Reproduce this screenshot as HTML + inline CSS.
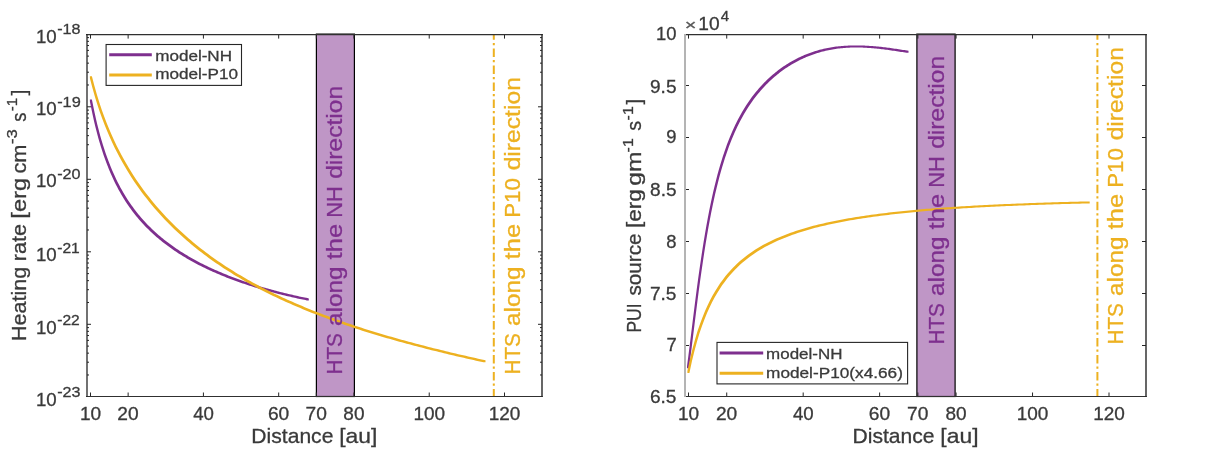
<!DOCTYPE html>
<html><head><meta charset="utf-8"><title>Heating rate and PUI source</title>
<style>
html,body{margin:0;padding:0;background:#fff;width:1205px;height:450px;overflow:hidden}
svg{display:block}
svg{will-change:transform}
text{font-family:"Liberation Sans",sans-serif;font-kerning:none;white-space:pre}
</style></head><body>
<svg width="1205" height="450" viewBox="0 0 1205 450"><rect width="1205" height="450" fill="#fff"/><rect x="316.40" y="34.10" width="38.00" height="362.40" fill="#BF96C6" stroke="#000" stroke-width="1.2"/><path d="M90.50,396.50v-4M90.50,34.60v4M128.14,396.50v-4M128.14,34.60v4M203.41,396.50v-4M203.41,34.60v4M278.68,396.50v-4M278.68,34.60v4M316.32,396.50v-4M316.32,34.60v4M353.95,396.50v-4M353.95,34.60v4M429.22,396.50v-4M429.22,34.60v4M504.50,396.50v-4M504.50,34.60v4M87.00,106.80h4M542.00,106.80h-4M87.00,179.30h4M542.00,179.30h-4M87.00,251.80h4M542.00,251.80h-4M87.00,324.30h4M542.00,324.30h-4M87.00,84.98h2M542.00,84.98h-2M87.00,72.21h2M542.00,72.21h-2M87.00,63.15h2M542.00,63.15h-2M87.00,56.12h2M542.00,56.12h-2M87.00,50.38h2M542.00,50.38h-2M87.00,45.53h2M542.00,45.53h-2M87.00,41.33h2M542.00,41.33h-2M87.00,37.62h2M542.00,37.62h-2M87.00,157.48h2M542.00,157.48h-2M87.00,144.71h2M542.00,144.71h-2M87.00,135.65h2M542.00,135.65h-2M87.00,128.62h2M542.00,128.62h-2M87.00,122.88h2M542.00,122.88h-2M87.00,118.03h2M542.00,118.03h-2M87.00,113.83h2M542.00,113.83h-2M87.00,110.12h2M542.00,110.12h-2M87.00,229.98h2M542.00,229.98h-2M87.00,217.21h2M542.00,217.21h-2M87.00,208.15h2M542.00,208.15h-2M87.00,201.12h2M542.00,201.12h-2M87.00,195.38h2M542.00,195.38h-2M87.00,190.53h2M542.00,190.53h-2M87.00,186.33h2M542.00,186.33h-2M87.00,182.62h2M542.00,182.62h-2M87.00,302.48h2M542.00,302.48h-2M87.00,289.71h2M542.00,289.71h-2M87.00,280.65h2M542.00,280.65h-2M87.00,273.62h2M542.00,273.62h-2M87.00,267.88h2M542.00,267.88h-2M87.00,263.03h2M542.00,263.03h-2M87.00,258.83h2M542.00,258.83h-2M87.00,255.12h2M542.00,255.12h-2M87.00,374.98h2M542.00,374.98h-2M87.00,362.21h2M542.00,362.21h-2M87.00,353.15h2M542.00,353.15h-2M87.00,346.12h2M542.00,346.12h-2M87.00,340.38h2M542.00,340.38h-2M87.00,335.53h2M542.00,335.53h-2M87.00,331.33h2M542.00,331.33h-2M87.00,327.62h2M542.00,327.62h-2" stroke="#262626" stroke-width="1" fill="none"/><rect x="916.90" y="34.10" width="38.20" height="362.40" fill="#BF96C6" stroke="#000" stroke-width="1.2"/><path d="M688.50,396.50v-4M688.50,34.60v4M726.73,396.50v-4M726.73,34.60v4M803.18,396.50v-4M803.18,34.60v4M879.63,396.50v-4M879.63,34.60v4M917.86,396.50v-4M917.86,34.60v4M956.09,396.50v-4M956.09,34.60v4M1032.54,396.50v-4M1032.54,34.60v4M1109.00,396.50v-4M1109.00,34.60v4M685.00,85.50h4M1146.00,85.50h-4M685.00,137.50h4M1146.00,137.50h-4M685.00,189.50h4M1146.00,189.50h-4M685.00,241.50h4M1146.00,241.50h-4M685.00,293.50h4M1146.00,293.50h-4M685.00,345.50h4M1146.00,345.50h-4" stroke="#262626" stroke-width="1" fill="none"/><path d="M89.90,99.41L91.90,99.41L93.26,106.36L93.26,108.36L91.26,108.36L89.90,101.41ZM91.26,106.36L93.26,106.36L94.63,112.87L94.63,114.87L92.63,114.87L91.26,108.36ZM92.63,112.87L94.63,112.87L95.99,118.96L95.99,120.96L93.99,120.96L92.63,114.87ZM93.99,118.96L95.99,118.96L97.36,124.68L97.36,126.68L95.36,126.68L93.99,120.96ZM95.36,124.68L97.36,124.68L98.72,130.07L98.72,132.07L96.72,132.07L95.36,126.68ZM96.72,130.07L98.72,130.07L100.08,135.15L100.08,137.15L98.08,137.15L96.72,132.07ZM98.08,135.15L100.08,135.15L101.45,139.96L101.45,141.96L99.45,141.96L98.08,137.15ZM99.45,139.96L101.45,139.96L102.81,144.50L102.81,146.50L100.81,146.50L99.45,141.96ZM100.81,144.50L102.81,144.50L104.18,148.82L104.18,150.82L102.18,150.82L100.81,146.50ZM102.18,148.82L104.18,148.82L105.54,152.92L105.54,154.92L103.54,154.92L102.18,150.82ZM103.54,152.92L105.54,152.92L106.91,156.82L106.91,158.82L104.91,158.82L103.54,154.92ZM104.91,156.82L106.91,156.82L108.27,160.54L108.27,162.54L106.27,162.54L104.91,158.82ZM106.27,160.54L108.27,160.54L109.63,164.09L109.63,166.09L107.63,166.09L106.27,162.54ZM107.63,164.09L109.63,164.09L111.00,167.48L111.00,169.48L109.00,169.48L107.63,166.09ZM109.00,167.48L111.00,167.48L112.36,170.72L112.36,172.72L110.36,172.72L109.00,169.48ZM110.36,170.72L112.36,170.72L113.73,173.83L113.73,175.83L111.73,175.83L110.36,172.72ZM111.73,173.83L113.73,173.83L115.09,176.82L115.09,178.82L113.09,178.82L111.73,175.83ZM113.09,176.82L115.09,176.82L116.45,179.68L116.45,181.68L114.45,181.68L113.09,178.82ZM114.45,179.68L116.45,179.68L117.82,182.44L117.82,184.44L115.82,184.44L114.45,181.68ZM115.82,182.44L117.82,182.44L119.18,185.09L119.18,187.09L117.18,187.09L115.82,184.44ZM117.18,185.09L119.18,185.09L120.55,187.64L120.55,189.64L118.55,189.64L117.18,187.09ZM118.55,187.64L120.55,187.64L121.91,190.11L121.91,192.11L119.91,192.11L118.55,189.64ZM119.91,190.11L121.91,190.11L123.28,192.48L123.28,194.48L121.28,194.48L119.91,192.11ZM121.28,192.48L123.28,192.48L124.64,194.78L124.64,196.78L122.64,196.78L121.28,194.48ZM122.64,194.78L124.64,194.78L126.00,197.00L126.00,199.00L124.00,199.00L122.64,196.78ZM124.00,197.00L126.00,197.00L127.37,199.15L127.37,201.15L125.37,201.15L124.00,199.00ZM125.37,199.15L127.37,199.15L128.73,201.23L128.73,203.23L126.73,203.23L125.37,201.15ZM126.73,201.23L128.73,201.23L130.10,203.25L130.10,205.25L128.10,205.25L126.73,203.23ZM128.10,203.25L130.10,203.25L131.46,205.20L131.46,207.20L129.46,207.20L128.10,205.25ZM129.46,205.20L131.46,205.20L132.82,207.10L132.82,209.10L130.82,209.10L129.46,207.20ZM130.82,207.10L132.82,207.10L134.19,208.94L134.19,210.94L132.19,210.94L130.82,209.10ZM132.19,208.94L134.19,208.94L135.55,210.74L135.55,212.74L133.55,212.74L132.19,210.94ZM133.55,210.74L135.55,210.74L136.92,212.48L136.92,214.48L134.92,214.48L133.55,212.74ZM134.92,212.48L136.92,212.48L138.28,214.17L138.28,216.17L136.28,216.17L134.92,214.48ZM136.28,214.17L138.28,214.17L139.65,215.82L139.65,217.82L137.65,217.82L136.28,216.17ZM137.65,215.82L139.65,215.82L141.01,217.43L141.01,219.43L139.01,219.43L137.65,217.82ZM139.01,217.43L141.01,217.43L142.37,218.99L142.37,220.99L140.37,220.99L139.01,219.43ZM140.37,218.99L142.37,218.99L143.74,220.52L143.74,222.52L141.74,222.52L140.37,220.99ZM141.74,220.52L143.74,220.52L145.10,222.01L145.10,224.01L143.10,224.01L141.74,222.52ZM143.10,222.01L145.10,222.01L146.47,223.46L146.47,225.46L144.47,225.46L143.10,224.01ZM144.47,223.46L146.47,223.46L147.83,224.88L147.83,226.88L145.83,226.88L144.47,225.46ZM145.83,224.88L147.83,224.88L149.19,226.26L149.19,228.26L147.19,228.26L145.83,226.88ZM147.19,226.26L149.19,226.26L150.56,227.62L150.56,229.62L148.56,229.62L147.19,228.26ZM148.56,227.62L150.56,227.62L151.92,228.94L151.92,230.94L149.92,230.94L148.56,229.62ZM149.92,228.94L151.92,228.94L153.29,230.23L153.29,232.23L151.29,232.23L149.92,230.94ZM151.29,230.23L153.29,230.23L154.65,231.50L154.65,233.50L152.65,233.50L151.29,232.23ZM152.65,231.50L154.65,231.50L156.02,232.74L156.02,234.74L154.02,234.74L152.65,233.50ZM154.02,232.74L156.02,232.74L157.38,233.95L157.38,235.95L155.38,235.95L154.02,234.74ZM155.38,233.95L157.38,233.95L158.74,235.14L158.74,237.14L156.74,237.14L155.38,235.95ZM156.74,235.14L158.74,235.14L160.11,236.31L160.11,238.31L158.11,238.31L156.74,237.14ZM158.11,236.31L160.11,236.31L161.47,237.45L161.47,239.45L159.47,239.45L158.11,238.31ZM159.47,237.45L161.47,237.45L162.84,238.57L162.84,240.57L160.84,240.57L159.47,239.45ZM160.84,238.57L162.84,238.57L164.20,239.67L164.20,241.67L162.20,241.67L160.84,240.57ZM162.20,239.67L164.20,239.67L165.56,240.74L165.56,242.74L163.56,242.74L162.20,241.67ZM163.56,240.74L165.56,240.74L166.93,241.80L166.93,243.80L164.93,243.80L163.56,242.74ZM164.93,241.80L166.93,241.80L168.29,242.83L168.29,244.83L166.29,244.83L164.93,243.80ZM166.29,242.83L168.29,242.83L169.66,243.85L169.66,245.85L167.66,245.85L166.29,244.83ZM167.66,243.85L169.66,243.85L171.02,244.85L171.02,246.85L169.02,246.85L167.66,245.85ZM169.02,244.85L171.02,244.85L172.38,245.83L172.38,247.83L170.38,247.83L169.02,246.85ZM170.38,245.83L172.38,245.83L173.75,246.80L173.75,248.80L171.75,248.80L170.38,247.83ZM171.75,246.80L173.75,246.80L175.11,247.74L175.11,249.74L173.11,249.74L171.75,248.80ZM173.11,247.74L175.11,247.74L176.48,248.68L176.48,250.68L174.48,250.68L173.11,249.74ZM174.48,248.68L176.48,248.68L177.84,249.59L177.84,251.59L175.84,251.59L174.48,250.68ZM175.84,249.59L177.84,249.59L179.21,250.49L179.21,252.49L177.21,252.49L175.84,251.59ZM177.21,250.49L179.21,250.49L180.57,251.38L180.57,253.38L178.57,253.38L177.21,252.49ZM178.57,251.38L180.57,251.38L181.93,252.25L181.93,254.25L179.93,254.25L178.57,253.38ZM179.93,252.25L181.93,252.25L183.30,253.11L183.30,255.11L181.30,255.11L179.93,254.25ZM181.30,253.11L183.30,253.11L184.66,253.95L184.66,255.95L182.66,255.95L181.30,255.11ZM182.66,253.95L184.66,253.95L186.03,254.78L186.03,256.78L184.03,256.78L182.66,255.95ZM184.03,254.78L186.03,254.78L187.39,255.60L187.39,257.60L185.39,257.60L184.03,256.78ZM185.39,255.60L187.39,255.60L188.75,256.40L188.75,258.40L186.75,258.40L185.39,257.60ZM186.75,256.40L188.75,256.40L190.12,257.19L190.12,259.19L188.12,259.19L186.75,258.40ZM188.12,257.19L190.12,257.19L191.48,257.97L191.48,259.97L189.48,259.97L188.12,259.19ZM189.48,257.97L191.48,257.97L192.85,258.74L192.85,260.74L190.85,260.74L189.48,259.97ZM190.85,258.74L192.85,258.74L194.21,259.50L194.21,261.50L192.21,261.50L190.85,260.74ZM192.21,259.50L194.21,259.50L195.58,260.25L195.58,262.25L193.58,262.25L192.21,261.50ZM193.58,260.25L195.58,260.25L196.94,260.98L196.94,262.98L194.94,262.98L193.58,262.25ZM194.94,260.98L196.94,260.98L198.30,261.71L198.30,263.71L196.30,263.71L194.94,262.98ZM196.30,261.71L198.30,261.71L199.67,262.42L199.67,264.42L197.67,264.42L196.30,263.71ZM197.67,262.42L199.67,262.42L201.03,263.13L201.03,265.13L199.03,265.13L197.67,264.42ZM199.03,263.13L201.03,263.13L202.40,263.82L202.40,265.82L200.40,265.82L199.03,265.13ZM200.40,263.82L202.40,263.82L203.76,264.51L203.76,266.51L201.76,266.51L200.40,265.82ZM201.76,264.51L203.76,264.51L205.12,265.18L205.12,267.18L203.12,267.18L201.76,266.51ZM203.12,265.18L205.12,265.18L206.49,265.85L206.49,267.85L204.49,267.85L203.12,267.18ZM204.49,265.85L206.49,265.85L207.85,266.50L207.85,268.50L205.85,268.50L204.49,267.85ZM205.85,266.50L207.85,266.50L209.22,267.15L209.22,269.15L207.22,269.15L205.85,268.50ZM207.22,267.15L209.22,267.15L210.58,267.79L210.58,269.79L208.58,269.79L207.22,269.15ZM208.58,267.79L210.58,267.79L211.95,268.42L211.95,270.42L209.95,270.42L208.58,269.79ZM209.95,268.42L211.95,268.42L213.31,269.05L213.31,271.05L211.31,271.05L209.95,270.42ZM211.31,269.05L213.31,269.05L214.67,269.66L214.67,271.66L212.67,271.66L211.31,271.05ZM212.67,269.66L214.67,269.66L216.04,270.27L216.04,272.27L214.04,272.27L212.67,271.66ZM214.04,270.27L216.04,270.27L217.40,270.87L217.40,272.87L215.40,272.87L214.04,272.27ZM215.40,270.87L217.40,270.87L218.77,271.46L218.77,273.46L216.77,273.46L215.40,272.87ZM216.77,271.46L218.77,271.46L220.13,272.04L220.13,274.04L218.13,274.04L216.77,273.46ZM218.13,272.04L220.13,272.04L221.49,272.62L221.49,274.62L219.49,274.62L218.13,274.04ZM219.49,272.62L221.49,272.62L222.86,273.19L222.86,275.19L220.86,275.19L219.49,274.62ZM220.86,273.19L222.86,273.19L224.22,273.75L224.22,275.75L222.22,275.75L220.86,275.19ZM222.22,273.75L224.22,273.75L225.59,274.30L225.59,276.30L223.59,276.30L222.22,275.75ZM223.59,274.30L225.59,274.30L226.95,274.85L226.95,276.85L224.95,276.85L223.59,276.30ZM224.95,274.85L226.95,274.85L228.32,275.39L228.32,277.39L226.32,277.39L224.95,276.85ZM226.32,275.39L228.32,275.39L229.68,275.93L229.68,277.93L227.68,277.93L226.32,277.39ZM227.68,275.93L229.68,275.93L231.04,276.46L231.04,278.46L229.04,278.46L227.68,277.93ZM229.04,276.46L231.04,276.46L232.41,276.98L232.41,278.98L230.41,278.98L229.04,278.46ZM230.41,276.98L232.41,276.98L233.77,277.49L233.77,279.49L231.77,279.49L230.41,278.98ZM231.77,277.49L233.77,277.49L235.14,278.00L235.14,280.00L233.14,280.00L231.77,279.49ZM233.14,278.00L235.14,278.00L236.50,278.51L236.50,280.51L234.50,280.51L233.14,280.00ZM234.50,278.51L236.50,278.51L237.86,279.00L237.86,281.00L235.86,281.00L234.50,280.51ZM235.86,279.00L237.86,279.00L239.23,279.50L239.23,281.50L237.23,281.50L235.86,281.00ZM237.23,279.50L239.23,279.50L240.59,279.98L240.59,281.98L238.59,281.98L237.23,281.50ZM238.59,279.98L240.59,279.98L241.96,280.46L241.96,282.46L239.96,282.46L238.59,281.98ZM239.96,280.46L241.96,280.46L243.32,280.94L243.32,282.94L241.32,282.94L239.96,282.46ZM241.32,280.94L243.32,280.94L244.68,281.40L244.68,283.40L242.68,283.40L241.32,282.94ZM242.68,281.40L244.68,281.40L246.05,281.87L246.05,283.87L244.05,283.87L242.68,283.40ZM244.05,281.87L246.05,281.87L247.41,282.33L247.41,284.33L245.41,284.33L244.05,283.87ZM245.41,282.33L247.41,282.33L248.78,282.78L248.78,284.78L246.78,284.78L245.41,284.33ZM246.78,282.78L248.78,282.78L250.14,283.23L250.14,285.23L248.14,285.23L246.78,284.78ZM248.14,283.23L250.14,283.23L251.51,283.67L251.51,285.67L249.51,285.67L248.14,285.23ZM249.51,283.67L251.51,283.67L252.87,284.11L252.87,286.11L250.87,286.11L249.51,285.67ZM250.87,284.11L252.87,284.11L254.23,284.54L254.23,286.54L252.23,286.54L250.87,286.11ZM252.23,284.54L254.23,284.54L255.60,284.96L255.60,286.96L253.60,286.96L252.23,286.54ZM253.60,284.96L255.60,284.96L256.96,285.39L256.96,287.39L254.96,287.39L253.60,286.96ZM254.96,285.39L256.96,285.39L258.33,285.80L258.33,287.80L256.33,287.80L254.96,287.39ZM256.33,285.80L258.33,285.80L259.69,286.22L259.69,288.22L257.69,288.22L256.33,287.80ZM257.69,286.22L259.69,286.22L261.05,286.63L261.05,288.63L259.05,288.63L257.69,288.22ZM259.05,286.63L261.05,286.63L262.42,287.03L262.42,289.03L260.42,289.03L259.05,288.63ZM260.42,287.03L262.42,287.03L263.78,287.43L263.78,289.43L261.78,289.43L260.42,289.03ZM261.78,287.43L263.78,287.43L265.15,287.82L265.15,289.82L263.15,289.82L261.78,289.43ZM263.15,287.82L265.15,287.82L266.51,288.21L266.51,290.21L264.51,290.21L263.15,289.82ZM264.51,288.21L266.51,288.21L267.88,288.60L267.88,290.60L265.88,290.60L264.51,290.21ZM265.88,288.60L267.88,288.60L269.24,288.98L269.24,290.98L267.24,290.98L265.88,290.60ZM267.24,288.98L269.24,288.98L270.60,289.36L270.60,291.36L268.60,291.36L267.24,290.98ZM268.60,289.36L270.60,289.36L271.97,289.73L271.97,291.73L269.97,291.73L268.60,291.36ZM269.97,289.73L271.97,289.73L273.33,290.10L273.33,292.10L271.33,292.10L269.97,291.73ZM271.33,290.10L273.33,290.10L274.70,290.47L274.70,292.47L272.70,292.47L271.33,292.10ZM272.70,290.47L274.70,290.47L276.06,290.83L276.06,292.83L274.06,292.83L272.70,292.47ZM274.06,290.83L276.06,290.83L277.42,291.19L277.42,293.19L275.42,293.19L274.06,292.83ZM275.42,291.19L277.42,291.19L278.79,291.54L278.79,293.54L276.79,293.54L275.42,293.19ZM276.79,291.54L278.79,291.54L280.15,291.89L280.15,293.89L278.15,293.89L276.79,293.54ZM278.15,291.89L280.15,291.89L281.52,292.23L281.52,294.23L279.52,294.23L278.15,293.89ZM279.52,292.23L281.52,292.23L282.88,292.57L282.88,294.57L280.88,294.57L279.52,294.23ZM280.88,292.57L282.88,292.57L284.25,292.91L284.25,294.91L282.25,294.91L280.88,294.57ZM282.25,292.91L284.25,292.91L285.61,293.25L285.61,295.25L283.61,295.25L282.25,294.91ZM283.61,293.25L285.61,293.25L286.97,293.58L286.97,295.58L284.97,295.58L283.61,295.25ZM284.97,293.58L286.97,293.58L288.34,293.90L288.34,295.90L286.34,295.90L284.97,295.58ZM286.34,293.90L288.34,293.90L289.70,294.23L289.70,296.23L287.70,296.23L286.34,295.90ZM287.70,294.23L289.70,294.23L291.07,294.55L291.07,296.55L289.07,296.55L287.70,296.23ZM289.07,294.55L291.07,294.55L292.43,294.86L292.43,296.86L290.43,296.86L289.07,296.55ZM290.43,294.86L292.43,294.86L293.79,295.18L293.79,297.18L291.79,297.18L290.43,296.86ZM291.79,295.18L293.79,295.18L295.16,295.49L295.16,297.49L293.16,297.49L291.79,297.18ZM293.16,295.49L295.16,295.49L296.52,295.79L296.52,297.79L294.52,297.79L293.16,297.49ZM294.52,295.79L296.52,295.79L297.89,296.09L297.89,298.09L295.89,298.09L294.52,297.79ZM295.89,296.09L297.89,296.09L299.25,296.39L299.25,298.39L297.25,298.39L295.89,298.09ZM297.25,296.39L299.25,296.39L300.62,296.69L300.62,298.69L298.62,298.69L297.25,298.39ZM298.62,296.69L300.62,296.69L301.98,296.98L301.98,298.98L299.98,298.98L298.62,298.69ZM299.98,296.98L301.98,296.98L303.34,297.27L303.34,299.27L301.34,299.27L299.98,298.98ZM301.34,297.27L303.34,297.27L304.71,297.56L304.71,299.56L302.71,299.56L301.34,299.27ZM302.71,297.56L304.71,297.56L306.07,297.84L306.07,299.84L304.07,299.84L302.71,299.56ZM304.07,297.84L306.07,297.84L307.44,298.12L307.44,300.12L305.44,300.12L304.07,299.84ZM305.44,298.12L307.44,298.12L308.80,298.40L308.80,300.40L306.80,300.40L305.44,300.12Z" fill="#7E2F8E" fill-rule="nonzero"/><path d="M89.90,76.23L91.90,76.23L94.38,85.81L94.38,87.81L92.38,87.81L89.90,78.23ZM92.38,85.81L94.38,85.81L96.85,94.53L96.85,96.53L94.85,96.53L92.38,87.81ZM94.85,94.53L96.85,94.53L99.33,102.53L99.33,104.53L97.33,104.53L94.85,96.53ZM97.33,102.53L99.33,102.53L101.80,109.94L101.80,111.94L99.80,111.94L97.33,104.53ZM99.80,109.94L101.80,109.94L104.28,116.83L104.28,118.83L102.28,118.83L99.80,111.94ZM102.28,116.83L104.28,116.83L106.75,123.28L106.75,125.28L104.75,125.28L102.28,118.83ZM104.75,123.28L106.75,123.28L109.23,129.35L109.23,131.35L107.23,131.35L104.75,125.28ZM107.23,129.35L109.23,129.35L111.70,135.07L111.70,137.07L109.70,137.07L107.23,131.35ZM109.70,135.07L111.70,135.07L114.18,140.50L114.18,142.50L112.18,142.50L109.70,137.07ZM112.18,140.50L114.18,140.50L116.65,145.66L116.65,147.66L114.65,147.66L112.18,142.50ZM114.65,145.66L116.65,145.66L119.13,150.58L119.13,152.58L117.13,152.58L114.65,147.66ZM117.13,150.58L119.13,150.58L121.61,155.29L121.61,157.29L119.61,157.29L117.13,152.58ZM119.61,155.29L121.61,155.29L124.08,159.80L124.08,161.80L122.08,161.80L119.61,157.29ZM122.08,159.80L124.08,159.80L126.56,164.12L126.56,166.12L124.56,166.12L122.08,161.80ZM124.56,164.12L126.56,164.12L129.03,168.28L129.03,170.28L127.03,170.28L124.56,166.12ZM127.03,168.28L129.03,168.28L131.51,172.29L131.51,174.29L129.51,174.29L127.03,170.28ZM129.51,172.29L131.51,172.29L133.98,176.16L133.98,178.16L131.98,178.16L129.51,174.29ZM131.98,176.16L133.98,176.16L136.46,179.89L136.46,181.89L134.46,181.89L131.98,178.16ZM134.46,179.89L136.46,179.89L138.93,183.50L138.93,185.50L136.93,185.50L134.46,181.89ZM136.93,183.50L138.93,183.50L141.41,187.00L141.41,189.00L139.41,189.00L136.93,185.50ZM139.41,187.00L141.41,187.00L143.88,190.39L143.88,192.39L141.88,192.39L139.41,189.00ZM141.88,190.39L143.88,190.39L146.36,193.68L146.36,195.68L144.36,195.68L141.88,192.39ZM144.36,193.68L146.36,193.68L148.84,196.87L148.84,198.87L146.84,198.87L144.36,195.68ZM146.84,196.87L148.84,196.87L151.31,199.98L151.31,201.98L149.31,201.98L146.84,198.87ZM149.31,199.98L151.31,199.98L153.79,203.00L153.79,205.00L151.79,205.00L149.31,201.98ZM151.79,203.00L153.79,203.00L156.26,205.93L156.26,207.93L154.26,207.93L151.79,205.00ZM154.26,205.93L156.26,205.93L158.74,208.79L158.74,210.79L156.74,210.79L154.26,207.93ZM156.74,208.79L158.74,208.79L161.21,211.58L161.21,213.58L159.21,213.58L156.74,210.79ZM159.21,211.58L161.21,211.58L163.69,214.30L163.69,216.30L161.69,216.30L159.21,213.58ZM161.69,214.30L163.69,214.30L166.16,216.95L166.16,218.95L164.16,218.95L161.69,216.30ZM164.16,216.95L166.16,216.95L168.64,219.54L168.64,221.54L166.64,221.54L164.16,218.95ZM166.64,219.54L168.64,219.54L171.12,222.06L171.12,224.06L169.12,224.06L166.64,221.54ZM169.12,222.06L171.12,222.06L173.59,224.53L173.59,226.53L171.59,226.53L169.12,224.06ZM171.59,224.53L173.59,224.53L176.07,226.95L176.07,228.95L174.07,228.95L171.59,226.53ZM174.07,226.95L176.07,226.95L178.54,229.30L178.54,231.30L176.54,231.30L174.07,228.95ZM176.54,229.30L178.54,229.30L181.02,231.61L181.02,233.61L179.02,233.61L176.54,231.30ZM179.02,231.61L181.02,231.61L183.49,233.87L183.49,235.87L181.49,235.87L179.02,233.61ZM181.49,233.87L183.49,233.87L185.97,236.08L185.97,238.08L183.97,238.08L181.49,235.87ZM183.97,236.08L185.97,236.08L188.44,238.24L188.44,240.24L186.44,240.24L183.97,238.08ZM186.44,238.24L188.44,238.24L190.92,240.36L190.92,242.36L188.92,242.36L186.44,240.24ZM188.92,240.36L190.92,240.36L193.39,242.44L193.39,244.44L191.39,244.44L188.92,242.36ZM191.39,242.44L193.39,242.44L195.87,244.48L195.87,246.48L193.87,246.48L191.39,244.44ZM193.87,244.48L195.87,244.48L198.35,246.47L198.35,248.47L196.35,248.47L193.87,246.48ZM196.35,246.47L198.35,246.47L200.82,248.43L200.82,250.43L198.82,250.43L196.35,248.47ZM198.82,248.43L200.82,248.43L203.30,250.35L203.30,252.35L201.30,252.35L198.82,250.43ZM201.30,250.35L203.30,250.35L205.77,252.23L205.77,254.23L203.77,254.23L201.30,252.35ZM203.77,252.23L205.77,252.23L208.25,254.08L208.25,256.08L206.25,256.08L203.77,254.23ZM206.25,254.08L208.25,254.08L210.72,255.90L210.72,257.90L208.72,257.90L206.25,256.08ZM208.72,255.90L210.72,255.90L213.20,257.68L213.20,259.68L211.20,259.68L208.72,257.90ZM211.20,257.68L213.20,257.68L215.67,259.43L215.67,261.43L213.67,261.43L211.20,259.68ZM213.67,259.43L215.67,259.43L218.15,261.15L218.15,263.15L216.15,263.15L213.67,261.43ZM216.15,261.15L218.15,261.15L220.62,262.84L220.62,264.84L218.62,264.84L216.15,263.15ZM218.62,262.84L220.62,262.84L223.10,264.50L223.10,266.50L221.10,266.50L218.62,264.84ZM221.10,264.50L223.10,264.50L225.58,266.13L225.58,268.13L223.58,268.13L221.10,266.50ZM223.58,266.13L225.58,266.13L228.05,267.73L228.05,269.73L226.05,269.73L223.58,268.13ZM226.05,267.73L228.05,267.73L230.53,269.31L230.53,271.31L228.53,271.31L226.05,269.73ZM228.53,269.31L230.53,269.31L233.00,270.86L233.00,272.86L231.00,272.86L228.53,271.31ZM231.00,270.86L233.00,270.86L235.48,272.39L235.48,274.39L233.48,274.39L231.00,272.86ZM233.48,272.39L235.48,272.39L237.95,273.89L237.95,275.89L235.95,275.89L233.48,274.39ZM235.95,273.89L237.95,273.89L240.43,275.37L240.43,277.37L238.43,277.37L235.95,275.89ZM238.43,275.37L240.43,275.37L242.90,276.83L242.90,278.83L240.90,278.83L238.43,277.37ZM240.90,276.83L242.90,276.83L245.38,278.26L245.38,280.26L243.38,280.26L240.90,278.83ZM243.38,278.26L245.38,278.26L247.85,279.67L247.85,281.67L245.85,281.67L243.38,280.26ZM245.85,279.67L247.85,279.67L250.33,281.06L250.33,283.06L248.33,283.06L245.85,281.67ZM248.33,281.06L250.33,281.06L252.81,282.43L252.81,284.43L250.81,284.43L248.33,283.06ZM250.81,282.43L252.81,282.43L255.28,283.78L255.28,285.78L253.28,285.78L250.81,284.43ZM253.28,283.78L255.28,283.78L257.76,285.11L257.76,287.11L255.76,287.11L253.28,285.78ZM255.76,285.11L257.76,285.11L260.23,286.41L260.23,288.41L258.23,288.41L255.76,287.11ZM258.23,286.41L260.23,286.41L262.71,287.70L262.71,289.70L260.71,289.70L258.23,288.41ZM260.71,287.70L262.71,287.70L265.18,288.98L265.18,290.98L263.18,290.98L260.71,289.70ZM263.18,288.98L265.18,288.98L267.66,290.23L267.66,292.23L265.66,292.23L263.18,290.98ZM265.66,290.23L267.66,290.23L270.13,291.47L270.13,293.47L268.13,293.47L265.66,292.23ZM268.13,291.47L270.13,291.47L272.61,292.68L272.61,294.68L270.61,294.68L268.13,293.47ZM270.61,292.68L272.61,292.68L275.08,293.89L275.08,295.89L273.08,295.89L270.61,294.68ZM273.08,293.89L275.08,293.89L277.56,295.07L277.56,297.07L275.56,297.07L273.08,295.89ZM275.56,295.07L277.56,295.07L280.04,296.24L280.04,298.24L278.04,298.24L275.56,297.07ZM278.04,296.24L280.04,296.24L282.51,297.40L282.51,299.40L280.51,299.40L278.04,298.24ZM280.51,297.40L282.51,297.40L284.99,298.54L284.99,300.54L282.99,300.54L280.51,299.40ZM282.99,298.54L284.99,298.54L287.46,299.66L287.46,301.66L285.46,301.66L282.99,300.54ZM285.46,299.66L287.46,299.66L289.94,300.77L289.94,302.77L287.94,302.77L285.46,301.66ZM287.94,300.77L289.94,300.77L292.41,301.86L292.41,303.86L290.41,303.86L287.94,302.77ZM290.41,301.86L292.41,301.86L294.89,302.95L294.89,304.95L292.89,304.95L290.41,303.86ZM292.89,302.95L294.89,302.95L297.36,304.01L297.36,306.01L295.36,306.01L292.89,304.95ZM295.36,304.01L297.36,304.01L299.84,305.07L299.84,307.07L297.84,307.07L295.36,306.01ZM297.84,305.07L299.84,305.07L302.32,306.11L302.32,308.11L300.32,308.11L297.84,307.07ZM300.32,306.11L302.32,306.11L304.79,307.14L304.79,309.14L302.79,309.14L300.32,308.11ZM302.79,307.14L304.79,307.14L307.27,308.15L307.27,310.15L305.27,310.15L302.79,309.14ZM305.27,308.15L307.27,308.15L309.74,309.16L309.74,311.16L307.74,311.16L305.27,310.15ZM307.74,309.16L309.74,309.16L312.22,310.15L312.22,312.15L310.22,312.15L307.74,311.16ZM310.22,310.15L312.22,310.15L314.69,311.13L314.69,313.13L312.69,313.13L310.22,312.15ZM312.69,311.13L314.69,311.13L317.17,312.10L317.17,314.10L315.17,314.10L312.69,313.13ZM315.17,312.10L317.17,312.10L319.64,313.06L319.64,315.06L317.64,315.06L315.17,314.10ZM317.64,313.06L319.64,313.06L322.12,314.01L322.12,316.01L320.12,316.01L317.64,315.06ZM320.12,314.01L322.12,314.01L324.59,314.94L324.59,316.94L322.59,316.94L320.12,316.01ZM322.59,314.94L324.59,314.94L327.07,315.87L327.07,317.87L325.07,317.87L322.59,316.94ZM325.07,315.87L327.07,315.87L329.55,316.78L329.55,318.78L327.55,318.78L325.07,317.87ZM327.55,316.78L329.55,316.78L332.02,317.69L332.02,319.69L330.02,319.69L327.55,318.78ZM330.02,317.69L332.02,317.69L334.50,318.58L334.50,320.58L332.50,320.58L330.02,319.69ZM332.50,318.58L334.50,318.58L336.97,319.47L336.97,321.47L334.97,321.47L332.50,320.58ZM334.97,319.47L336.97,319.47L339.45,320.35L339.45,322.35L337.45,322.35L334.97,321.47ZM337.45,320.35L339.45,320.35L341.92,321.21L341.92,323.21L339.92,323.21L337.45,322.35ZM339.92,321.21L341.92,321.21L344.40,322.07L344.40,324.07L342.40,324.07L339.92,323.21ZM342.40,322.07L344.40,322.07L346.87,322.92L346.87,324.92L344.87,324.92L342.40,324.07ZM344.87,322.92L346.87,322.92L349.35,323.76L349.35,325.76L347.35,325.76L344.87,324.92ZM347.35,323.76L349.35,323.76L351.82,324.59L351.82,326.59L349.82,326.59L347.35,325.76ZM349.82,324.59L351.82,324.59L354.30,325.42L354.30,327.42L352.30,327.42L349.82,326.59ZM352.30,325.42L354.30,325.42L356.78,326.23L356.78,328.23L354.78,328.23L352.30,327.42ZM354.78,326.23L356.78,326.23L359.25,327.04L359.25,329.04L357.25,329.04L354.78,328.23ZM357.25,327.04L359.25,327.04L361.73,327.84L361.73,329.84L359.73,329.84L357.25,329.04ZM359.73,327.84L361.73,327.84L364.20,328.63L364.20,330.63L362.20,330.63L359.73,329.84ZM362.20,328.63L364.20,328.63L366.68,329.41L366.68,331.41L364.68,331.41L362.20,330.63ZM364.68,329.41L366.68,329.41L369.15,330.19L369.15,332.19L367.15,332.19L364.68,331.41ZM367.15,330.19L369.15,330.19L371.63,330.96L371.63,332.96L369.63,332.96L367.15,332.19ZM369.63,330.96L371.63,330.96L374.10,331.72L374.10,333.72L372.10,333.72L369.63,332.96ZM372.10,331.72L374.10,331.72L376.58,332.47L376.58,334.47L374.58,334.47L372.10,333.72ZM374.58,332.47L376.58,332.47L379.05,333.22L379.05,335.22L377.05,335.22L374.58,334.47ZM377.05,333.22L379.05,333.22L381.53,333.96L381.53,335.96L379.53,335.96L377.05,335.22ZM379.53,333.96L381.53,333.96L384.01,334.69L384.01,336.69L382.01,336.69L379.53,335.96ZM382.01,334.69L384.01,334.69L386.48,335.42L386.48,337.42L384.48,337.42L382.01,336.69ZM384.48,335.42L386.48,335.42L388.96,336.14L388.96,338.14L386.96,338.14L384.48,337.42ZM386.96,336.14L388.96,336.14L391.43,336.86L391.43,338.86L389.43,338.86L386.96,338.14ZM389.43,336.86L391.43,336.86L393.91,337.56L393.91,339.56L391.91,339.56L389.43,338.86ZM391.91,337.56L393.91,337.56L396.38,338.27L396.38,340.27L394.38,340.27L391.91,339.56ZM394.38,338.27L396.38,338.27L398.86,338.96L398.86,340.96L396.86,340.96L394.38,340.27ZM396.86,338.96L398.86,338.96L401.33,339.65L401.33,341.65L399.33,341.65L396.86,340.96ZM399.33,339.65L401.33,339.65L403.81,340.34L403.81,342.34L401.81,342.34L399.33,341.65ZM401.81,340.34L403.81,340.34L406.28,341.02L406.28,343.02L404.28,343.02L401.81,342.34ZM404.28,341.02L406.28,341.02L408.76,341.69L408.76,343.69L406.76,343.69L404.28,343.02ZM406.76,341.69L408.76,341.69L411.24,342.36L411.24,344.36L409.24,344.36L406.76,343.69ZM409.24,342.36L411.24,342.36L413.71,343.02L413.71,345.02L411.71,345.02L409.24,344.36ZM411.71,343.02L413.71,343.02L416.19,343.68L416.19,345.68L414.19,345.68L411.71,345.02ZM414.19,343.68L416.19,343.68L418.66,344.33L418.66,346.33L416.66,346.33L414.19,345.68ZM416.66,344.33L418.66,344.33L421.14,344.98L421.14,346.98L419.14,346.98L416.66,346.33ZM419.14,344.98L421.14,344.98L423.61,345.62L423.61,347.62L421.61,347.62L419.14,346.98ZM421.61,345.62L423.61,345.62L426.09,346.26L426.09,348.26L424.09,348.26L421.61,347.62ZM424.09,346.26L426.09,346.26L428.56,346.89L428.56,348.89L426.56,348.89L424.09,348.26ZM426.56,346.89L428.56,346.89L431.04,347.52L431.04,349.52L429.04,349.52L426.56,348.89ZM429.04,347.52L431.04,347.52L433.52,348.14L433.52,350.14L431.52,350.14L429.04,349.52ZM431.52,348.14L433.52,348.14L435.99,348.76L435.99,350.76L433.99,350.76L431.52,350.14ZM433.99,348.76L435.99,348.76L438.47,349.37L438.47,351.37L436.47,351.37L433.99,350.76ZM436.47,349.37L438.47,349.37L440.94,349.98L440.94,351.98L438.94,351.98L436.47,351.37ZM438.94,349.98L440.94,349.98L443.42,350.59L443.42,352.59L441.42,352.59L438.94,351.98ZM441.42,350.59L443.42,350.59L445.89,351.19L445.89,353.19L443.89,353.19L441.42,352.59ZM443.89,351.19L445.89,351.19L448.37,351.78L448.37,353.78L446.37,353.78L443.89,353.19ZM446.37,351.78L448.37,351.78L450.84,352.38L450.84,354.38L448.84,354.38L446.37,353.78ZM448.84,352.38L450.84,352.38L453.32,352.96L453.32,354.96L451.32,354.96L448.84,354.38ZM451.32,352.96L453.32,352.96L455.79,353.55L455.79,355.55L453.79,355.55L451.32,354.96ZM453.79,353.55L455.79,353.55L458.27,354.13L458.27,356.13L456.27,356.13L453.79,355.55ZM456.27,354.13L458.27,354.13L460.75,354.71L460.75,356.71L458.75,356.71L456.27,356.13ZM458.75,354.71L460.75,354.71L463.22,355.28L463.22,357.28L461.22,357.28L458.75,356.71ZM461.22,355.28L463.22,355.28L465.70,355.85L465.70,357.85L463.70,357.85L461.22,357.28ZM463.70,355.85L465.70,355.85L468.17,356.41L468.17,358.41L466.17,358.41L463.70,357.85ZM466.17,356.41L468.17,356.41L470.65,356.97L470.65,358.97L468.65,358.97L466.17,358.41ZM468.65,356.97L470.65,356.97L473.12,357.53L473.12,359.53L471.12,359.53L468.65,358.97ZM471.12,357.53L473.12,357.53L475.60,358.09L475.60,360.09L473.60,360.09L471.12,359.53ZM473.60,358.09L475.60,358.09L478.07,358.64L478.07,360.64L476.07,360.64L473.60,360.09ZM476.07,358.64L478.07,358.64L480.55,359.19L480.55,361.19L478.55,361.19L476.07,360.64ZM478.55,359.19L480.55,359.19L483.02,359.73L483.02,361.73L481.02,361.73L478.55,361.19ZM481.02,359.73L483.02,359.73L485.50,360.27L485.50,362.27L483.50,362.27L481.02,361.73Z" fill="#EDB120" fill-rule="nonzero"/><path d="M687.00,366.28L688.38,355.85L690.38,355.85L690.38,357.85L689.00,368.28L687.00,368.28ZM688.38,355.85L689.76,344.91L691.76,344.91L691.76,346.91L690.38,357.85L688.38,357.85ZM689.76,344.91L691.14,333.73L693.14,333.73L693.14,335.73L691.76,346.91L689.76,346.91ZM691.14,333.73L692.52,322.50L694.52,322.50L694.52,324.50L693.14,335.73L691.14,335.73ZM692.52,322.50L693.90,311.38L695.90,311.38L695.90,313.38L694.52,324.50L692.52,324.50ZM693.90,311.38L695.28,300.46L697.28,300.46L697.28,302.46L695.90,313.38L693.90,313.38ZM695.28,300.46L696.66,289.84L698.66,289.84L698.66,291.84L697.28,302.46L695.28,302.46ZM696.66,289.84L698.04,279.56L700.04,279.56L700.04,281.56L698.66,291.84L696.66,291.84ZM698.04,279.56L699.42,269.64L701.42,269.64L701.42,271.64L700.04,281.56L698.04,281.56ZM699.42,269.64L700.81,260.13L702.81,260.13L702.81,262.13L701.42,271.64L699.42,271.64ZM700.81,260.13L702.19,251.01L704.19,251.01L704.19,253.01L702.81,262.13L700.81,262.13ZM702.19,251.01L703.57,242.30L705.57,242.30L705.57,244.30L704.19,253.01L702.19,253.01ZM703.57,242.30L704.95,233.99L706.95,233.99L706.95,235.99L705.57,244.30L703.57,244.30ZM704.95,233.99L706.33,226.06L708.33,226.06L708.33,228.06L706.95,235.99L704.95,235.99ZM706.33,226.06L707.71,218.52L709.71,218.52L709.71,220.52L708.33,228.06L706.33,228.06ZM707.71,218.52L709.09,211.35L711.09,211.35L711.09,213.35L709.71,220.52L707.71,220.52ZM709.09,211.35L710.47,204.52L712.47,204.52L712.47,206.52L711.09,213.35L709.09,213.35ZM710.47,204.52L711.85,198.04L713.85,198.04L713.85,200.04L712.47,206.52L710.47,206.52ZM711.85,198.04L713.23,191.87L715.23,191.87L715.23,193.87L713.85,200.04L711.85,200.04ZM713.23,191.87L714.61,186.00L716.61,186.00L716.61,188.00L715.23,193.87L713.23,193.87ZM714.61,186.00L715.99,180.42L717.99,180.42L717.99,182.42L716.61,188.00L714.61,188.00ZM715.99,180.42L717.37,175.12L719.37,175.12L719.37,177.12L717.99,182.42L715.99,182.42ZM717.37,175.12L718.75,170.07L720.75,170.07L720.75,172.07L719.37,177.12L717.37,177.12ZM718.75,170.07L720.13,165.26L722.13,165.26L722.13,167.26L720.75,172.07L718.75,172.07ZM720.13,165.26L721.51,160.68L723.51,160.68L723.51,162.68L722.13,167.26L720.13,167.26ZM721.51,160.68L722.89,156.31L724.89,156.31L724.89,158.31L723.51,162.68L721.51,162.68ZM722.89,156.31L724.27,152.14L726.27,152.14L726.27,154.14L724.89,158.31L722.89,158.31ZM724.27,152.14L725.65,148.17L727.65,148.17L727.65,150.17L726.27,154.14L724.27,154.14ZM725.65,148.17L727.03,144.37L729.03,144.37L729.03,146.37L727.65,150.17L725.65,150.17ZM727.03,144.37L728.42,140.74L730.42,140.74L730.42,142.74L729.03,146.37L727.03,146.37ZM728.42,140.74L729.80,137.27L731.80,137.27L731.80,139.27L730.42,142.74L728.42,142.74ZM729.80,137.27L731.18,133.95L733.18,133.95L733.18,135.95L731.80,139.27L729.80,139.27ZM731.18,133.95L732.56,130.76L734.56,130.76L734.56,132.76L733.18,135.95L731.18,135.95ZM732.56,130.76L733.94,127.71L735.94,127.71L735.94,129.71L734.56,132.76L732.56,132.76ZM733.94,127.71L735.32,124.78L737.32,124.78L737.32,126.78L735.94,129.71L733.94,129.71ZM735.32,124.78L736.70,121.97L738.70,121.97L738.70,123.97L737.32,126.78L735.32,126.78ZM736.70,121.97L738.08,119.27L740.08,119.27L740.08,121.27L738.70,123.97L736.70,123.97ZM738.08,119.27L739.46,116.67L741.46,116.67L741.46,118.67L740.08,121.27L738.08,121.27ZM739.46,116.67L740.84,114.17L742.84,114.17L742.84,116.17L741.46,118.67L739.46,118.67ZM740.84,114.17L742.22,111.76L744.22,111.76L744.22,113.76L742.84,116.17L740.84,116.17ZM742.22,111.76L743.60,109.44L745.60,109.44L745.60,111.44L744.22,113.76L742.22,113.76ZM743.60,109.44L744.98,107.20L746.98,107.20L746.98,109.20L745.60,111.44L743.60,111.44ZM744.98,107.20L746.36,105.04L748.36,105.04L748.36,107.04L746.98,109.20L744.98,109.20ZM746.36,105.04L747.74,102.95L749.74,102.95L749.74,104.95L748.36,107.04L746.36,107.04ZM747.74,102.95L749.12,100.94L751.12,100.94L751.12,102.94L749.74,104.95L747.74,104.95ZM749.12,100.94L750.50,98.99L752.50,98.99L752.50,100.99L751.12,102.94L749.12,102.94ZM750.50,98.99L751.88,97.10L753.88,97.10L753.88,99.10L752.50,100.99L750.50,100.99ZM751.88,97.10L753.26,95.28L755.26,95.28L755.26,97.28L753.88,99.10L751.88,99.10ZM753.26,95.28L754.64,93.51L756.64,93.51L756.64,95.51L755.26,97.28L753.26,97.28ZM754.64,93.51L756.03,91.80L758.03,91.80L758.03,93.80L756.64,95.51L754.64,95.51ZM756.03,91.80L757.41,90.14L759.41,90.14L759.41,92.14L758.03,93.80L756.03,93.80ZM757.41,90.14L758.79,88.53L760.79,88.53L760.79,90.53L759.41,92.14L757.41,92.14ZM758.79,88.53L760.17,86.96L762.17,86.96L762.17,88.96L760.79,90.53L758.79,90.53ZM760.17,86.96L761.55,85.45L763.55,85.45L763.55,87.45L762.17,88.96L760.17,88.96ZM761.55,85.45L762.93,83.98L764.93,83.98L764.93,85.98L763.55,87.45L761.55,87.45ZM762.93,83.98L764.31,82.55L766.31,82.55L766.31,84.55L764.93,85.98L762.93,85.98ZM764.31,82.55L765.69,81.17L767.69,81.17L767.69,83.17L766.31,84.55L764.31,84.55ZM765.69,81.17L767.07,79.82L769.07,79.82L769.07,81.82L767.69,83.17L765.69,83.17ZM767.07,79.82L768.45,78.51L770.45,78.51L770.45,80.51L769.07,81.82L767.07,81.82ZM768.45,78.51L769.83,77.24L771.83,77.24L771.83,79.24L770.45,80.51L768.45,80.51ZM769.83,77.24L771.21,76.01L773.21,76.01L773.21,78.01L771.83,79.24L769.83,79.24ZM771.21,76.01L772.59,74.81L774.59,74.81L774.59,76.81L773.21,78.01L771.21,78.01ZM772.59,74.81L773.97,73.64L775.97,73.64L775.97,75.64L774.59,76.81L772.59,76.81ZM773.97,73.64L775.35,72.51L777.35,72.51L777.35,74.51L775.97,75.64L773.97,75.64ZM775.35,72.51L776.73,71.41L778.73,71.41L778.73,73.41L777.35,74.51L775.35,74.51ZM776.73,71.41L778.11,70.33L780.11,70.33L780.11,72.33L778.73,73.41L776.73,73.41ZM778.11,70.33L779.49,69.29L781.49,69.29L781.49,71.29L780.11,72.33L778.11,72.33ZM779.49,69.29L780.87,68.28L782.87,68.28L782.87,70.28L781.49,71.29L779.49,71.29ZM780.87,68.28L782.25,67.30L784.25,67.30L784.25,69.30L782.87,70.28L780.87,70.28ZM782.25,67.30L783.64,66.35L785.64,66.35L785.64,68.35L784.25,69.30L782.25,69.30ZM783.64,66.35L785.02,65.42L787.02,65.42L787.02,67.42L785.64,68.35L783.64,68.35ZM785.02,65.42L786.40,64.52L788.40,64.52L788.40,66.52L787.02,67.42L785.02,67.42ZM786.40,64.52L787.78,63.65L789.78,63.65L789.78,65.65L788.40,66.52L786.40,66.52ZM787.78,63.65L789.16,62.80L791.16,62.80L791.16,64.80L789.78,65.65L787.78,65.65ZM789.16,62.80L790.54,61.98L792.54,61.98L792.54,63.98L791.16,64.80L789.16,64.80ZM790.54,61.98L791.92,61.18L793.92,61.18L793.92,63.18L792.54,63.98L790.54,63.98ZM791.92,61.18L793.30,60.41L795.30,60.41L795.30,62.41L793.92,63.18L791.92,63.18ZM793.30,60.41L794.68,59.66L796.68,59.66L796.68,61.66L795.30,62.41L793.30,62.41ZM794.68,59.66L796.06,58.93L798.06,58.93L798.06,60.93L796.68,61.66L794.68,61.66ZM796.06,58.93L797.44,58.23L799.44,58.23L799.44,60.23L798.06,60.93L796.06,60.93ZM797.44,58.23L798.82,57.55L800.82,57.55L800.82,59.55L799.44,60.23L797.44,60.23ZM798.82,57.55L800.20,56.89L802.20,56.89L802.20,58.89L800.82,59.55L798.82,59.55ZM800.20,56.89L801.58,56.26L803.58,56.26L803.58,58.26L802.20,58.89L800.20,58.89ZM801.58,56.26L802.96,55.65L804.96,55.65L804.96,57.65L803.58,58.26L801.58,58.26ZM802.96,55.65L804.34,55.05L806.34,55.05L806.34,57.05L804.96,57.65L802.96,57.65ZM804.34,55.05L805.72,54.48L807.72,54.48L807.72,56.48L806.34,57.05L804.34,57.05ZM805.72,54.48L807.10,53.93L809.10,53.93L809.10,55.93L807.72,56.48L805.72,56.48ZM807.10,53.93L808.48,53.40L810.48,53.40L810.48,55.40L809.10,55.93L807.10,55.93ZM808.48,53.40L809.86,52.89L811.86,52.89L811.86,54.89L810.48,55.40L808.48,55.40ZM809.86,52.89L811.25,52.40L813.25,52.40L813.25,54.40L811.86,54.89L809.86,54.89ZM811.25,52.40L812.63,51.93L814.63,51.93L814.63,53.93L813.25,54.40L811.25,54.40ZM812.63,51.93L814.01,51.47L816.01,51.47L816.01,53.47L814.63,53.93L812.63,53.93ZM814.01,51.47L815.39,51.04L817.39,51.04L817.39,53.04L816.01,53.47L814.01,53.47ZM815.39,51.04L816.77,50.63L818.77,50.63L818.77,52.63L817.39,53.04L815.39,53.04ZM816.77,50.63L818.15,50.23L820.15,50.23L820.15,52.23L818.77,52.63L816.77,52.63ZM818.15,50.23L819.53,49.85L821.53,49.85L821.53,51.85L820.15,52.23L818.15,52.23ZM819.53,49.85L820.91,49.49L822.91,49.49L822.91,51.49L821.53,51.85L819.53,51.85ZM820.91,49.49L822.29,49.15L824.29,49.15L824.29,51.15L822.91,51.49L820.91,51.49ZM822.29,49.15L823.67,48.82L825.67,48.82L825.67,50.82L824.29,51.15L822.29,51.15ZM823.67,48.82L825.05,48.51L827.05,48.51L827.05,50.51L825.67,50.82L823.67,50.82ZM825.05,48.51L826.43,48.22L828.43,48.22L828.43,50.22L827.05,50.51L825.05,50.51ZM826.43,48.22L827.81,47.94L829.81,47.94L829.81,49.94L828.43,50.22L826.43,50.22ZM827.81,47.94L829.19,47.68L831.19,47.68L831.19,49.68L829.81,49.94L827.81,49.94ZM829.19,47.68L830.57,47.44L832.57,47.44L832.57,49.44L831.19,49.68L829.19,49.68ZM830.57,47.44L831.95,47.21L833.95,47.21L833.95,49.21L832.57,49.44L830.57,49.44ZM831.95,47.21L833.33,47.00L835.33,47.00L835.33,49.00L833.95,49.21L831.95,49.21ZM833.33,47.00L834.71,46.80L836.71,46.80L836.71,48.80L835.33,49.00L833.33,49.00ZM834.71,46.80L836.09,46.61L838.09,46.61L838.09,48.61L836.71,48.80L834.71,48.80ZM836.09,46.61L837.47,46.45L839.47,46.45L839.47,48.45L838.09,48.61L836.09,48.61ZM837.47,46.45L838.86,46.29L840.86,46.29L840.86,48.29L839.47,48.45L837.47,48.45ZM838.86,46.29L840.24,46.15L842.24,46.15L842.24,48.15L840.86,48.29L838.86,48.29ZM840.24,46.15L841.62,46.02L843.62,46.02L843.62,48.02L842.24,48.15L840.24,48.15ZM841.62,46.02L843.00,45.91L845.00,45.91L845.00,47.91L843.62,48.02L841.62,48.02ZM843.00,45.91L844.38,45.81L846.38,45.81L846.38,47.81L845.00,47.91L843.00,47.91ZM844.38,45.81L845.76,45.73L847.76,45.73L847.76,47.73L846.38,47.81L844.38,47.81ZM845.76,45.73L847.14,45.65L849.14,45.65L849.14,47.65L847.76,47.73L845.76,47.73ZM847.14,45.65L848.52,45.59L850.52,45.59L850.52,47.59L849.14,47.65L847.14,47.65ZM848.52,45.59L849.90,45.54L851.90,45.54L851.90,47.54L850.52,47.59L848.52,47.59ZM849.90,45.54L851.28,45.50L853.28,45.50L853.28,47.50L851.90,47.54L849.90,47.54ZM851.28,45.50L852.66,45.48L854.66,45.48L854.66,47.48L853.28,47.50L851.28,47.50ZM852.66,45.48L854.04,45.47L856.04,45.47L856.04,47.47L854.66,47.48L852.66,47.48ZM854.04,45.47L855.42,45.46L857.42,45.46L857.42,47.46L856.04,47.47L854.04,47.47ZM855.42,45.46L857.42,45.46L858.80,45.47L858.80,47.47L856.80,47.47L855.42,47.46ZM856.80,45.47L858.80,45.47L860.18,45.49L860.18,47.49L858.18,47.49L856.80,47.47ZM858.18,45.49L860.18,45.49L861.56,45.52L861.56,47.52L859.56,47.52L858.18,47.49ZM859.56,45.52L861.56,45.52L862.94,45.56L862.94,47.56L860.94,47.56L859.56,47.52ZM860.94,45.56L862.94,45.56L864.32,45.61L864.32,47.61L862.32,47.61L860.94,47.56ZM862.32,45.61L864.32,45.61L865.70,45.67L865.70,47.67L863.70,47.67L862.32,47.61ZM863.70,45.67L865.70,45.67L867.08,45.73L867.08,47.73L865.08,47.73L863.70,47.67ZM865.08,45.73L867.08,45.73L868.47,45.81L868.47,47.81L866.47,47.81L865.08,47.73ZM866.47,45.81L868.47,45.81L869.85,45.90L869.85,47.90L867.85,47.90L866.47,47.81ZM867.85,45.90L869.85,45.90L871.23,45.99L871.23,47.99L869.23,47.99L867.85,47.90ZM869.23,45.99L871.23,45.99L872.61,46.09L872.61,48.09L870.61,48.09L869.23,47.99ZM870.61,46.09L872.61,46.09L873.99,46.20L873.99,48.20L871.99,48.20L870.61,48.09ZM871.99,46.20L873.99,46.20L875.37,46.32L875.37,48.32L873.37,48.32L871.99,48.20ZM873.37,46.32L875.37,46.32L876.75,46.45L876.75,48.45L874.75,48.45L873.37,48.32ZM874.75,46.45L876.75,46.45L878.13,46.58L878.13,48.58L876.13,48.58L874.75,48.45ZM876.13,46.58L878.13,46.58L879.51,46.72L879.51,48.72L877.51,48.72L876.13,48.58ZM877.51,46.72L879.51,46.72L880.89,46.87L880.89,48.87L878.89,48.87L877.51,48.72ZM878.89,46.87L880.89,46.87L882.27,47.02L882.27,49.02L880.27,49.02L878.89,48.87ZM880.27,47.02L882.27,47.02L883.65,47.18L883.65,49.18L881.65,49.18L880.27,49.02ZM881.65,47.18L883.65,47.18L885.03,47.34L885.03,49.34L883.03,49.34L881.65,49.18ZM883.03,47.34L885.03,47.34L886.41,47.51L886.41,49.51L884.41,49.51L883.03,49.34ZM884.41,47.51L886.41,47.51L887.79,47.69L887.79,49.69L885.79,49.69L884.41,49.51ZM885.79,47.69L887.79,47.69L889.17,47.87L889.17,49.87L887.17,49.87L885.79,49.69ZM887.17,47.87L889.17,47.87L890.55,48.06L890.55,50.06L888.55,50.06L887.17,49.87ZM888.55,48.06L890.55,48.06L891.93,48.24L891.93,50.24L889.93,50.24L888.55,50.06ZM889.93,48.24L891.93,48.24L893.31,48.44L893.31,50.44L891.31,50.44L889.93,50.24ZM891.31,48.44L893.31,48.44L894.69,48.64L894.69,50.64L892.69,50.64L891.31,50.44ZM892.69,48.64L894.69,48.64L896.08,48.84L896.08,50.84L894.08,50.84L892.69,50.64ZM894.08,48.84L896.08,48.84L897.46,49.04L897.46,51.04L895.46,51.04L894.08,50.84ZM895.46,49.04L897.46,49.04L898.84,49.25L898.84,51.25L896.84,51.25L895.46,51.04ZM896.84,49.25L898.84,49.25L900.22,49.46L900.22,51.46L898.22,51.46L896.84,51.25ZM898.22,49.46L900.22,49.46L901.60,49.67L901.60,51.67L899.60,51.67L898.22,51.46ZM899.60,49.67L901.60,49.67L902.98,49.89L902.98,51.89L900.98,51.89L899.60,51.67ZM900.98,49.89L902.98,49.89L904.36,50.11L904.36,52.11L902.36,52.11L900.98,51.89ZM902.36,50.11L904.36,50.11L905.74,50.33L905.74,52.33L903.74,52.33L902.36,52.11ZM903.74,50.33L905.74,50.33L907.12,50.55L907.12,52.55L905.12,52.55L903.74,52.33ZM905.12,50.55L907.12,50.55L908.50,50.77L908.50,52.77L906.50,52.77L905.12,52.55Z" fill="#7E2F8E" fill-rule="nonzero"/><path d="M687.40,371.02L689.92,359.26L691.92,359.26L691.92,361.26L689.40,373.02L687.40,373.02ZM689.92,359.26L692.44,348.88L694.44,348.88L694.44,350.88L691.92,361.26L689.92,361.26ZM692.44,348.88L694.95,339.63L696.95,339.63L696.95,341.63L694.44,350.88L692.44,350.88ZM694.95,339.63L697.47,331.35L699.47,331.35L699.47,333.35L696.95,341.63L694.95,341.63ZM697.47,331.35L699.99,323.90L701.99,323.90L701.99,325.90L699.47,333.35L697.47,333.35ZM699.99,323.90L702.51,317.15L704.51,317.15L704.51,319.15L701.99,325.90L699.99,325.90ZM702.51,317.15L705.02,311.01L707.02,311.01L707.02,313.01L704.51,319.15L702.51,319.15ZM705.02,311.01L707.54,305.41L709.54,305.41L709.54,307.41L707.02,313.01L705.02,313.01ZM707.54,305.41L710.06,300.27L712.06,300.27L712.06,302.27L709.54,307.41L707.54,307.41ZM710.06,300.27L712.58,295.54L714.58,295.54L714.58,297.54L712.06,302.27L710.06,302.27ZM712.58,295.54L715.09,291.17L717.09,291.17L717.09,293.17L714.58,297.54L712.58,297.54ZM715.09,291.17L717.61,287.13L719.61,287.13L719.61,289.13L717.09,293.17L715.09,293.17ZM717.61,287.13L720.13,283.37L722.13,283.37L722.13,285.37L719.61,289.13L717.61,289.13ZM720.13,283.37L722.65,279.88L724.65,279.88L724.65,281.88L722.13,285.37L720.13,285.37ZM722.65,279.88L725.16,276.61L727.16,276.61L727.16,278.61L724.65,281.88L722.65,281.88ZM725.16,276.61L727.68,273.56L729.68,273.56L729.68,275.56L727.16,278.61L725.16,278.61ZM727.68,273.56L730.20,270.70L732.20,270.70L732.20,272.70L729.68,275.56L727.68,275.56ZM730.20,270.70L732.72,268.02L734.72,268.02L734.72,270.02L732.20,272.70L730.20,272.70ZM732.72,268.02L735.23,265.49L737.23,265.49L737.23,267.49L734.72,270.02L732.72,270.02ZM735.23,265.49L737.75,263.10L739.75,263.10L739.75,265.10L737.23,267.49L735.23,267.49ZM737.75,263.10L740.27,260.85L742.27,260.85L742.27,262.85L739.75,265.10L737.75,265.10ZM740.27,260.85L742.79,258.72L744.79,258.72L744.79,260.72L742.27,262.85L740.27,262.85ZM742.79,258.72L745.31,256.71L747.31,256.71L747.31,258.71L744.79,260.72L742.79,260.72ZM745.31,256.71L747.82,254.79L749.82,254.79L749.82,256.79L747.31,258.71L745.31,258.71ZM747.82,254.79L750.34,252.98L752.34,252.98L752.34,254.98L749.82,256.79L747.82,256.79ZM750.34,252.98L752.86,251.25L754.86,251.25L754.86,253.25L752.34,254.98L750.34,254.98ZM752.86,251.25L755.38,249.61L757.38,249.61L757.38,251.61L754.86,253.25L752.86,253.25ZM755.38,249.61L757.89,248.04L759.89,248.04L759.89,250.04L757.38,251.61L755.38,251.61ZM757.89,248.04L760.41,246.54L762.41,246.54L762.41,248.54L759.89,250.04L757.89,250.04ZM760.41,246.54L762.93,245.11L764.93,245.11L764.93,247.11L762.41,248.54L760.41,248.54ZM762.93,245.11L765.45,243.75L767.45,243.75L767.45,245.75L764.93,247.11L762.93,247.11ZM765.45,243.75L767.96,242.44L769.96,242.44L769.96,244.44L767.45,245.75L765.45,245.75ZM767.96,242.44L770.48,241.19L772.48,241.19L772.48,243.19L769.96,244.44L767.96,244.44ZM770.48,241.19L773.00,239.99L775.00,239.99L775.00,241.99L772.48,243.19L770.48,243.19ZM773.00,239.99L775.52,238.83L777.52,238.83L777.52,240.83L775.00,241.99L773.00,241.99ZM775.52,238.83L778.03,237.73L780.03,237.73L780.03,239.73L777.52,240.83L775.52,240.83ZM778.03,237.73L780.55,236.66L782.55,236.66L782.55,238.66L780.03,239.73L778.03,239.73ZM780.55,236.66L783.07,235.64L785.07,235.64L785.07,237.64L782.55,238.66L780.55,238.66ZM783.07,235.64L785.59,234.66L787.59,234.66L787.59,236.66L785.07,237.64L783.07,237.64ZM785.59,234.66L788.10,233.71L790.10,233.71L790.10,235.71L787.59,236.66L785.59,236.66ZM788.10,233.71L790.62,232.80L792.62,232.80L792.62,234.80L790.10,235.71L788.10,235.71ZM790.62,232.80L793.14,231.91L795.14,231.91L795.14,233.91L792.62,234.80L790.62,234.80ZM793.14,231.91L795.66,231.06L797.66,231.06L797.66,233.06L795.14,233.91L793.14,233.91ZM795.66,231.06L798.17,230.24L800.17,230.24L800.17,232.24L797.66,233.06L795.66,233.06ZM798.17,230.24L800.69,229.45L802.69,229.45L802.69,231.45L800.17,232.24L798.17,232.24ZM800.69,229.45L803.21,228.69L805.21,228.69L805.21,230.69L802.69,231.45L800.69,231.45ZM803.21,228.69L805.73,227.95L807.73,227.95L807.73,229.95L805.21,230.69L803.21,230.69ZM805.73,227.95L808.25,227.23L810.25,227.23L810.25,229.23L807.73,229.95L805.73,229.95ZM808.25,227.23L810.76,226.54L812.76,226.54L812.76,228.54L810.25,229.23L808.25,229.23ZM810.76,226.54L813.28,225.87L815.28,225.87L815.28,227.87L812.76,228.54L810.76,228.54ZM813.28,225.87L815.80,225.22L817.80,225.22L817.80,227.22L815.28,227.87L813.28,227.87ZM815.80,225.22L818.32,224.59L820.32,224.59L820.32,226.59L817.80,227.22L815.80,227.22ZM818.32,224.59L820.83,223.98L822.83,223.98L822.83,225.98L820.32,226.59L818.32,226.59ZM820.83,223.98L823.35,223.39L825.35,223.39L825.35,225.39L822.83,225.98L820.83,225.98ZM823.35,223.39L825.87,222.81L827.87,222.81L827.87,224.81L825.35,225.39L823.35,225.39ZM825.87,222.81L828.39,222.25L830.39,222.25L830.39,224.25L827.87,224.81L825.87,224.81ZM828.39,222.25L830.90,221.71L832.90,221.71L832.90,223.71L830.39,224.25L828.39,224.25ZM830.90,221.71L833.42,221.19L835.42,221.19L835.42,223.19L832.90,223.71L830.90,223.71ZM833.42,221.19L835.94,220.68L837.94,220.68L837.94,222.68L835.42,223.19L833.42,223.19ZM835.94,220.68L838.46,220.18L840.46,220.18L840.46,222.18L837.94,222.68L835.94,222.68ZM838.46,220.18L840.97,219.70L842.97,219.70L842.97,221.70L840.46,222.18L838.46,222.18ZM840.97,219.70L843.49,219.23L845.49,219.23L845.49,221.23L842.97,221.70L840.97,221.70ZM843.49,219.23L846.01,218.77L848.01,218.77L848.01,220.77L845.49,221.23L843.49,221.23ZM846.01,218.77L848.53,218.33L850.53,218.33L850.53,220.33L848.01,220.77L846.01,220.77ZM848.53,218.33L851.04,217.89L853.04,217.89L853.04,219.89L850.53,220.33L848.53,220.33ZM851.04,217.89L853.56,217.47L855.56,217.47L855.56,219.47L853.04,219.89L851.04,219.89ZM853.56,217.47L856.08,217.06L858.08,217.06L858.08,219.06L855.56,219.47L853.56,219.47ZM856.08,217.06L858.60,216.67L860.60,216.67L860.60,218.67L858.08,219.06L856.08,219.06ZM858.60,216.67L861.12,216.28L863.12,216.28L863.12,218.28L860.60,218.67L858.60,218.67ZM861.12,216.28L863.63,215.90L865.63,215.90L865.63,217.90L863.12,218.28L861.12,218.28ZM863.63,215.90L866.15,215.53L868.15,215.53L868.15,217.53L865.63,217.90L863.63,217.90ZM866.15,215.53L868.67,215.17L870.67,215.17L870.67,217.17L868.15,217.53L866.15,217.53ZM868.67,215.17L871.19,214.82L873.19,214.82L873.19,216.82L870.67,217.17L868.67,217.17ZM871.19,214.82L873.70,214.47L875.70,214.47L875.70,216.47L873.19,216.82L871.19,216.82ZM873.70,214.47L876.22,214.14L878.22,214.14L878.22,216.14L875.70,216.47L873.70,216.47ZM876.22,214.14L878.74,213.81L880.74,213.81L880.74,215.81L878.22,216.14L876.22,216.14ZM878.74,213.81L881.26,213.50L883.26,213.50L883.26,215.50L880.74,215.81L878.74,215.81ZM881.26,213.50L883.77,213.18L885.77,213.18L885.77,215.18L883.26,215.50L881.26,215.50ZM883.77,213.18L886.29,212.88L888.29,212.88L888.29,214.88L885.77,215.18L883.77,215.18ZM886.29,212.88L888.81,212.59L890.81,212.59L890.81,214.59L888.29,214.88L886.29,214.88ZM888.81,212.59L891.33,212.30L893.33,212.30L893.33,214.30L890.81,214.59L888.81,214.59ZM891.33,212.30L893.84,212.01L895.84,212.01L895.84,214.01L893.33,214.30L891.33,214.30ZM893.84,212.01L896.36,211.74L898.36,211.74L898.36,213.74L895.84,214.01L893.84,214.01ZM896.36,211.74L898.88,211.47L900.88,211.47L900.88,213.47L898.36,213.74L896.36,213.74ZM898.88,211.47L901.40,211.20L903.40,211.20L903.40,213.20L900.88,213.47L898.88,213.47ZM901.40,211.20L903.91,210.95L905.91,210.95L905.91,212.95L903.40,213.20L901.40,213.20ZM903.91,210.95L906.43,210.69L908.43,210.69L908.43,212.69L905.91,212.95L903.91,212.95ZM906.43,210.69L908.95,210.45L910.95,210.45L910.95,212.45L908.43,212.69L906.43,212.69ZM908.95,210.45L911.47,210.21L913.47,210.21L913.47,212.21L910.95,212.45L908.95,212.45ZM911.47,210.21L913.98,209.97L915.98,209.97L915.98,211.97L913.47,212.21L911.47,212.21ZM913.98,209.97L916.50,209.74L918.50,209.74L918.50,211.74L915.98,211.97L913.98,211.97ZM916.50,209.74L919.02,209.52L921.02,209.52L921.02,211.52L918.50,211.74L916.50,211.74ZM919.02,209.52L921.54,209.30L923.54,209.30L923.54,211.30L921.02,211.52L919.02,211.52ZM921.54,209.30L924.06,209.08L926.06,209.08L926.06,211.08L923.54,211.30L921.54,211.30ZM924.06,209.08L926.57,208.87L928.57,208.87L928.57,210.87L926.06,211.08L924.06,211.08ZM926.57,208.87L929.09,208.66L931.09,208.66L931.09,210.66L928.57,210.87L926.57,210.87ZM929.09,208.66L931.61,208.46L933.61,208.46L933.61,210.46L931.09,210.66L929.09,210.66ZM931.61,208.46L934.13,208.26L936.13,208.26L936.13,210.26L933.61,210.46L931.61,210.46ZM934.13,208.26L936.64,208.07L938.64,208.07L938.64,210.07L936.13,210.26L934.13,210.26ZM936.64,208.07L939.16,207.88L941.16,207.88L941.16,209.88L938.64,210.07L936.64,210.07ZM939.16,207.88L941.68,207.70L943.68,207.70L943.68,209.70L941.16,209.88L939.16,209.88ZM941.68,207.70L944.20,207.51L946.20,207.51L946.20,209.51L943.68,209.70L941.68,209.70ZM944.20,207.51L946.71,207.34L948.71,207.34L948.71,209.34L946.20,209.51L944.20,209.51ZM946.71,207.34L949.23,207.16L951.23,207.16L951.23,209.16L948.71,209.34L946.71,209.34ZM949.23,207.16L951.75,206.99L953.75,206.99L953.75,208.99L951.23,209.16L949.23,209.16ZM951.75,206.99L954.27,206.82L956.27,206.82L956.27,208.82L953.75,208.99L951.75,208.99ZM954.27,206.82L956.78,206.66L958.78,206.66L958.78,208.66L956.27,208.82L954.27,208.82ZM956.78,206.66L959.30,206.50L961.30,206.50L961.30,208.50L958.78,208.66L956.78,208.66ZM959.30,206.50L961.82,206.34L963.82,206.34L963.82,208.34L961.30,208.50L959.30,208.50ZM961.82,206.34L964.34,206.19L966.34,206.19L966.34,208.19L963.82,208.34L961.82,208.34ZM964.34,206.19L966.85,206.04L968.85,206.04L968.85,208.04L966.34,208.19L964.34,208.19ZM966.85,206.04L969.37,205.89L971.37,205.89L971.37,207.89L968.85,208.04L966.85,208.04ZM969.37,205.89L971.89,205.74L973.89,205.74L973.89,207.74L971.37,207.89L969.37,207.89ZM971.89,205.74L974.41,205.60L976.41,205.60L976.41,207.60L973.89,207.74L971.89,207.74ZM974.41,205.60L976.93,205.46L978.93,205.46L978.93,207.46L976.41,207.60L974.41,207.60ZM976.93,205.46L979.44,205.33L981.44,205.33L981.44,207.33L978.93,207.46L976.93,207.46ZM979.44,205.33L981.96,205.19L983.96,205.19L983.96,207.19L981.44,207.33L979.44,207.33ZM981.96,205.19L984.48,205.06L986.48,205.06L986.48,207.06L983.96,207.19L981.96,207.19ZM984.48,205.06L987.00,204.93L989.00,204.93L989.00,206.93L986.48,207.06L984.48,207.06ZM987.00,204.93L989.51,204.81L991.51,204.81L991.51,206.81L989.00,206.93L987.00,206.93ZM989.51,204.81L992.03,204.68L994.03,204.68L994.03,206.68L991.51,206.81L989.51,206.81ZM992.03,204.68L994.55,204.56L996.55,204.56L996.55,206.56L994.03,206.68L992.03,206.68ZM994.55,204.56L997.07,204.44L999.07,204.44L999.07,206.44L996.55,206.56L994.55,206.56ZM997.07,204.44L999.58,204.33L1001.58,204.33L1001.58,206.33L999.07,206.44L997.07,206.44ZM999.58,204.33L1002.10,204.21L1004.10,204.21L1004.10,206.21L1001.58,206.33L999.58,206.33ZM1002.10,204.21L1004.62,204.10L1006.62,204.10L1006.62,206.10L1004.10,206.21L1002.10,206.21ZM1004.62,204.10L1007.14,203.99L1009.14,203.99L1009.14,205.99L1006.62,206.10L1004.62,206.10ZM1007.14,203.99L1009.65,203.88L1011.65,203.88L1011.65,205.88L1009.14,205.99L1007.14,205.99ZM1009.65,203.88L1012.17,203.78L1014.17,203.78L1014.17,205.78L1011.65,205.88L1009.65,205.88ZM1012.17,203.78L1014.69,203.67L1016.69,203.67L1016.69,205.67L1014.17,205.78L1012.17,205.78ZM1014.69,203.67L1017.21,203.57L1019.21,203.57L1019.21,205.57L1016.69,205.67L1014.69,205.67ZM1017.21,203.57L1019.72,203.47L1021.72,203.47L1021.72,205.47L1019.21,205.57L1017.21,205.57ZM1019.72,203.47L1022.24,203.38L1024.24,203.38L1024.24,205.38L1021.72,205.47L1019.72,205.47ZM1022.24,203.38L1024.76,203.28L1026.76,203.28L1026.76,205.28L1024.24,205.38L1022.24,205.38ZM1024.76,203.28L1027.28,203.19L1029.28,203.19L1029.28,205.19L1026.76,205.28L1024.76,205.28ZM1027.28,203.19L1029.79,203.09L1031.79,203.09L1031.79,205.09L1029.28,205.19L1027.28,205.19ZM1029.79,203.09L1032.31,203.00L1034.31,203.00L1034.31,205.00L1031.79,205.09L1029.79,205.09ZM1032.31,203.00L1034.83,202.91L1036.83,202.91L1036.83,204.91L1034.31,205.00L1032.31,205.00ZM1034.83,202.91L1037.35,202.83L1039.35,202.83L1039.35,204.83L1036.83,204.91L1034.83,204.91ZM1037.35,202.83L1039.87,202.74L1041.87,202.74L1041.87,204.74L1039.35,204.83L1037.35,204.83ZM1039.87,202.74L1042.38,202.66L1044.38,202.66L1044.38,204.66L1041.87,204.74L1039.87,204.74ZM1042.38,202.66L1044.90,202.58L1046.90,202.58L1046.90,204.58L1044.38,204.66L1042.38,204.66ZM1044.90,202.58L1047.42,202.50L1049.42,202.50L1049.42,204.50L1046.90,204.58L1044.90,204.58ZM1047.42,202.50L1049.94,202.42L1051.94,202.42L1051.94,204.42L1049.42,204.50L1047.42,204.50ZM1049.94,202.42L1052.45,202.34L1054.45,202.34L1054.45,204.34L1051.94,204.42L1049.94,204.42ZM1052.45,202.34L1054.97,202.26L1056.97,202.26L1056.97,204.26L1054.45,204.34L1052.45,204.34ZM1054.97,202.26L1057.49,202.19L1059.49,202.19L1059.49,204.19L1056.97,204.26L1054.97,204.26ZM1057.49,202.19L1060.01,202.12L1062.01,202.12L1062.01,204.12L1059.49,204.19L1057.49,204.19ZM1060.01,202.12L1062.52,202.04L1064.52,202.04L1064.52,204.04L1062.01,204.12L1060.01,204.12ZM1062.52,202.04L1065.04,201.97L1067.04,201.97L1067.04,203.97L1064.52,204.04L1062.52,204.04ZM1065.04,201.97L1067.56,201.91L1069.56,201.91L1069.56,203.91L1067.04,203.97L1065.04,203.97ZM1067.56,201.91L1070.08,201.84L1072.08,201.84L1072.08,203.84L1069.56,203.91L1067.56,203.91ZM1070.08,201.84L1072.59,201.77L1074.59,201.77L1074.59,203.77L1072.08,203.84L1070.08,203.84ZM1072.59,201.77L1075.11,201.71L1077.11,201.71L1077.11,203.71L1074.59,203.77L1072.59,203.77ZM1075.11,201.71L1077.63,201.64L1079.63,201.64L1079.63,203.64L1077.11,203.71L1075.11,203.71ZM1077.63,201.64L1080.15,201.58L1082.15,201.58L1082.15,203.58L1079.63,203.64L1077.63,203.64ZM1080.15,201.58L1082.66,201.52L1084.66,201.52L1084.66,203.52L1082.15,203.58L1080.15,203.58ZM1082.66,201.52L1085.18,201.46L1087.18,201.46L1087.18,203.46L1084.66,203.52L1082.66,203.52ZM1085.18,201.46L1087.70,201.40L1089.70,201.40L1089.70,203.40L1087.18,203.46L1085.18,203.46Z" fill="#EDB120" fill-rule="nonzero"/><path d="M493.8,396.5V34.6" stroke="#EDB120" stroke-width="2" stroke-dasharray="8.5 3.2 2.2 3.13" stroke-dashoffset="1" fill="none"/><path d="M1097.4,396.5V34.6" stroke="#EDB120" stroke-width="2" stroke-dasharray="8.5 3.2 2.2 3.13" stroke-dashoffset="1" fill="none"/><path d="M86.0,396.5H542.8M86.0,34.6H542.8" stroke="#303030" stroke-width="1.2" fill="none"/><path d="M87.0,34.0V397.1" stroke="#262626" stroke-width="1.3" fill="none"/><path d="M542.0,34.0V397.1" stroke="#262626" stroke-width="1.4" fill="none"/><path d="M684.0,396.5H1146.8M684.0,34.6H1146.8" stroke="#303030" stroke-width="1.2" fill="none"/><path d="M685.0,34.0V397.1" stroke="#b4b4b4" stroke-width="2.0" fill="none"/><path d="M1146.0,34.0V397.1" stroke="#262626" stroke-width="1.4" fill="none"/><g transform="translate(342.00,372.80) rotate(-90) scale(0.9507,1) translate(-1.79,0)" fill="#7E2F8E" stroke="#7E2F8E" stroke-width="0.3"><text x="0.00" y="0.00" font-size="21.8">HTS</text></g><g transform="translate(342.00,324.90) rotate(-90) scale(1.1155,1) translate(-0.93,0)" fill="#7E2F8E" stroke="#7E2F8E" stroke-width="0.3"><text x="0.00" y="0.00" font-size="21.8">along</text></g><g transform="translate(342.00,259.00) rotate(-90) scale(1.1722,1) translate(-0.33,0)" fill="#7E2F8E" stroke="#7E2F8E" stroke-width="0.3"><text x="0.00" y="0.00" font-size="21.8">the</text></g><g transform="translate(342.00,216.00) rotate(-90) scale(1.0028,1) translate(-1.79,0)" fill="#7E2F8E" stroke="#7E2F8E" stroke-width="0.3"><text x="0.00" y="0.00" font-size="21.8">NH</text></g><g transform="translate(342.00,177.80) rotate(-90) scale(1.1290,1) translate(-0.92,0)" fill="#7E2F8E" stroke="#7E2F8E" stroke-width="0.3"><text x="0.00" y="0.00" font-size="21.8">direction</text></g><g transform="translate(520.00,372.80) rotate(-90) scale(0.9507,1) translate(-1.79,0)" fill="#EDB120" stroke="#EDB120" stroke-width="0.3"><text x="0.00" y="0.00" font-size="21.8">HTS</text></g><g transform="translate(520.00,324.90) rotate(-90) scale(1.1155,1) translate(-0.93,0)" fill="#EDB120" stroke="#EDB120" stroke-width="0.3"><text x="0.00" y="0.00" font-size="21.8">along</text></g><g transform="translate(520.00,259.00) rotate(-90) scale(1.1722,1) translate(-0.33,0)" fill="#EDB120" stroke="#EDB120" stroke-width="0.3"><text x="0.00" y="0.00" font-size="21.8">the</text></g><g transform="translate(520.00,216.00) rotate(-90) scale(1.0235,1) translate(-1.79,0)" fill="#EDB120" stroke="#EDB120" stroke-width="0.3"><text x="0.00" y="0.00" font-size="21.8">P10</text></g><g transform="translate(520.00,169.30) rotate(-90) scale(1.1315,1) translate(-0.92,0)" fill="#EDB120" stroke="#EDB120" stroke-width="0.3"><text x="0.00" y="0.00" font-size="21.8">direction</text></g><g transform="translate(944.20,342.80) rotate(-90) scale(0.9507,1) translate(-1.79,0)" fill="#7E2F8E" stroke="#7E2F8E" stroke-width="0.3"><text x="0.00" y="0.00" font-size="21.8">HTS</text></g><g transform="translate(944.20,294.90) rotate(-90) scale(1.1155,1) translate(-0.93,0)" fill="#7E2F8E" stroke="#7E2F8E" stroke-width="0.3"><text x="0.00" y="0.00" font-size="21.8">along</text></g><g transform="translate(944.20,229.00) rotate(-90) scale(1.1722,1) translate(-0.33,0)" fill="#7E2F8E" stroke="#7E2F8E" stroke-width="0.3"><text x="0.00" y="0.00" font-size="21.8">the</text></g><g transform="translate(944.20,186.00) rotate(-90) scale(1.0028,1) translate(-1.79,0)" fill="#7E2F8E" stroke="#7E2F8E" stroke-width="0.3"><text x="0.00" y="0.00" font-size="21.8">NH</text></g><g transform="translate(944.20,147.80) rotate(-90) scale(1.1290,1) translate(-0.92,0)" fill="#7E2F8E" stroke="#7E2F8E" stroke-width="0.3"><text x="0.00" y="0.00" font-size="21.8">direction</text></g><g transform="translate(1123.20,342.80) rotate(-90) scale(0.9507,1) translate(-1.79,0)" fill="#EDB120" stroke="#EDB120" stroke-width="0.3"><text x="0.00" y="0.00" font-size="21.8">HTS</text></g><g transform="translate(1123.20,294.90) rotate(-90) scale(1.1155,1) translate(-0.93,0)" fill="#EDB120" stroke="#EDB120" stroke-width="0.3"><text x="0.00" y="0.00" font-size="21.8">along</text></g><g transform="translate(1123.20,229.00) rotate(-90) scale(1.1722,1) translate(-0.33,0)" fill="#EDB120" stroke="#EDB120" stroke-width="0.3"><text x="0.00" y="0.00" font-size="21.8">the</text></g><g transform="translate(1123.20,186.00) rotate(-90) scale(1.0235,1) translate(-1.79,0)" fill="#EDB120" stroke="#EDB120" stroke-width="0.3"><text x="0.00" y="0.00" font-size="21.8">P10</text></g><g transform="translate(1123.20,139.30) rotate(-90) scale(1.1315,1) translate(-0.92,0)" fill="#EDB120" stroke="#EDB120" stroke-width="0.3"><text x="0.00" y="0.00" font-size="21.8">direction</text></g><rect x="106.1" y="44.5" width="135.40" height="40.90" fill="#fff" stroke="#262626" stroke-width="1.1"/><path d="M109.2,54.8H151.8" stroke="#7E2F8E" stroke-width="3"/><path d="M109.2,74.9H151.8" stroke="#EDB120" stroke-width="3"/><g transform="translate(155.17,60.60) scale(1.1027,1)" fill="#3a3a3a" stroke="#3a3a3a" stroke-width="0.3"><text x="0.00" y="0.00" font-size="15.5">model-NH</text></g><g transform="translate(155.16,79.20) scale(1.1047,1)" fill="#3a3a3a" stroke="#3a3a3a" stroke-width="0.3"><text x="0.00" y="0.00" font-size="15.5">model-P10</text></g><rect x="717.0" y="342.4" width="190.60" height="41.50" fill="#fff" stroke="#262626" stroke-width="1.1"/><path d="M719.6,352.9H763.2" stroke="#7E2F8E" stroke-width="3"/><path d="M719.6,373.3H763.2" stroke="#EDB120" stroke-width="3"/><g transform="translate(766.07,359.00) scale(1.0953,1)" fill="#3a3a3a" stroke="#3a3a3a" stroke-width="0.3"><text x="0.00" y="0.00" font-size="15.5">model-NH</text></g><g transform="translate(766.06,377.70) scale(1.1113,1)" fill="#3a3a3a" stroke="#3a3a3a" stroke-width="0.3"><text x="0.00" y="0.00" font-size="15.5">model-P10(x4.66)</text></g><g transform="translate(35.88,42.80) scale(1.0138,1)" fill="#3a3a3a" stroke="#3a3a3a" stroke-width="0.3"><text x="0.00" y="0.00" font-size="18.4">10</text></g><g transform="translate(57.18,34.20) scale(1.0756,1)" fill="#3a3a3a" stroke="#3a3a3a" stroke-width="0.3"><text x="0.00" y="0.00" font-size="15.0">-18</text></g><g transform="translate(35.88,115.00) scale(1.0138,1)" fill="#3a3a3a" stroke="#3a3a3a" stroke-width="0.3"><text x="0.00" y="0.00" font-size="18.4">10</text></g><g transform="translate(57.17,106.70) scale(1.0885,1)" fill="#3a3a3a" stroke="#3a3a3a" stroke-width="0.3"><text x="0.00" y="0.00" font-size="15.0">-19</text></g><g transform="translate(35.88,187.40) scale(1.0138,1)" fill="#3a3a3a" stroke="#3a3a3a" stroke-width="0.3"><text x="0.00" y="0.00" font-size="18.4">10</text></g><g transform="translate(57.18,178.90) scale(1.0819,1)" fill="#3a3a3a" stroke="#3a3a3a" stroke-width="0.3"><text x="0.00" y="0.00" font-size="15.0">-20</text></g><g transform="translate(35.88,261.10) scale(1.0138,1)" fill="#3a3a3a" stroke="#3a3a3a" stroke-width="0.3"><text x="0.00" y="0.00" font-size="18.4">10</text></g><g transform="translate(57.21,252.80) scale(1.0404,1)" fill="#3a3a3a" stroke="#3a3a3a" stroke-width="0.3"><text x="0.00" y="0.00" font-size="15.0">-21</text></g><g transform="translate(35.88,333.70) scale(1.0138,1)" fill="#3a3a3a" stroke="#3a3a3a" stroke-width="0.3"><text x="0.00" y="0.00" font-size="18.4">10</text></g><g transform="translate(57.21,324.80) scale(1.0415,1)" fill="#3a3a3a" stroke="#3a3a3a" stroke-width="0.3"><text x="0.00" y="0.00" font-size="15.0">-22</text></g><g transform="translate(35.88,405.80) scale(1.0138,1)" fill="#3a3a3a" stroke="#3a3a3a" stroke-width="0.3"><text x="0.00" y="0.00" font-size="18.4">10</text></g><g transform="translate(57.18,396.90) scale(1.0760,1)" fill="#3a3a3a" stroke="#3a3a3a" stroke-width="0.3"><text x="0.00" y="0.00" font-size="15.0">-23</text></g><g transform="translate(79.95,419.70) scale(1.0356,1)" fill="#3a3a3a" stroke="#3a3a3a" stroke-width="0.3"><text x="0.00" y="0.00" font-size="18.4">10</text></g><g transform="translate(117.37,419.70) scale(1.0413,1)" fill="#3a3a3a" stroke="#3a3a3a" stroke-width="0.3"><text x="0.00" y="0.00" font-size="18.4">20</text></g><g transform="translate(193.18,419.70) scale(1.0142,1)" fill="#3a3a3a" stroke="#3a3a3a" stroke-width="0.3"><text x="0.00" y="0.00" font-size="18.4">40</text></g><g transform="translate(267.91,419.70) scale(1.0418,1)" fill="#3a3a3a" stroke="#3a3a3a" stroke-width="0.3"><text x="0.00" y="0.00" font-size="18.4">60</text></g><g transform="translate(305.53,419.70) scale(1.0423,1)" fill="#3a3a3a" stroke="#3a3a3a" stroke-width="0.3"><text x="0.00" y="0.00" font-size="18.4">70</text></g><g transform="translate(343.32,419.70) scale(1.0344,1)" fill="#3a3a3a" stroke="#3a3a3a" stroke-width="0.3"><text x="0.00" y="0.00" font-size="18.4">80</text></g><g transform="translate(413.43,419.70) scale(1.0322,1)" fill="#3a3a3a" stroke="#3a3a3a" stroke-width="0.3"><text x="0.00" y="0.00" font-size="18.4">100</text></g><g transform="translate(488.70,419.70) scale(1.0322,1)" fill="#3a3a3a" stroke="#3a3a3a" stroke-width="0.3"><text x="0.00" y="0.00" font-size="18.4">120</text></g><g transform="translate(677.95,419.70) scale(1.0356,1)" fill="#3a3a3a" stroke="#3a3a3a" stroke-width="0.3"><text x="0.00" y="0.00" font-size="18.4">10</text></g><g transform="translate(715.96,419.70) scale(1.0413,1)" fill="#3a3a3a" stroke="#3a3a3a" stroke-width="0.3"><text x="0.00" y="0.00" font-size="18.4">20</text></g><g transform="translate(792.95,419.70) scale(1.0142,1)" fill="#3a3a3a" stroke="#3a3a3a" stroke-width="0.3"><text x="0.00" y="0.00" font-size="18.4">40</text></g><g transform="translate(868.86,419.70) scale(1.0418,1)" fill="#3a3a3a" stroke="#3a3a3a" stroke-width="0.3"><text x="0.00" y="0.00" font-size="18.4">60</text></g><g transform="translate(907.08,419.70) scale(1.0423,1)" fill="#3a3a3a" stroke="#3a3a3a" stroke-width="0.3"><text x="0.00" y="0.00" font-size="18.4">70</text></g><g transform="translate(945.46,419.70) scale(1.0344,1)" fill="#3a3a3a" stroke="#3a3a3a" stroke-width="0.3"><text x="0.00" y="0.00" font-size="18.4">80</text></g><g transform="translate(1016.75,419.70) scale(1.0322,1)" fill="#3a3a3a" stroke="#3a3a3a" stroke-width="0.3"><text x="0.00" y="0.00" font-size="18.4">100</text></g><g transform="translate(1093.20,419.70) scale(1.0322,1)" fill="#3a3a3a" stroke="#3a3a3a" stroke-width="0.3"><text x="0.00" y="0.00" font-size="18.4">120</text></g><g transform="translate(655.95,40.20) scale(1.0000,1)" fill="#3a3a3a" stroke="#3a3a3a" stroke-width="0.3"><text x="0.00" y="0.00" font-size="18.4">10</text></g><g transform="translate(650.01,92.70) scale(1.0358,1)" fill="#3a3a3a" stroke="#3a3a3a" stroke-width="0.3"><text x="0.00" y="0.00" font-size="18.4">9.5</text></g><g transform="translate(666.34,143.30) scale(1.0000,1)" fill="#3a3a3a" stroke="#3a3a3a" stroke-width="0.3"><text x="0.00" y="0.00" font-size="18.4">9</text></g><g transform="translate(650.07,195.90) scale(1.0331,1)" fill="#3a3a3a" stroke="#3a3a3a" stroke-width="0.3"><text x="0.00" y="0.00" font-size="18.4">8.5</text></g><g transform="translate(666.27,248.20) scale(1.0000,1)" fill="#3a3a3a" stroke="#3a3a3a" stroke-width="0.3"><text x="0.00" y="0.00" font-size="18.4">8</text></g><g transform="translate(649.92,300.10) scale(1.0393,1)" fill="#3a3a3a" stroke="#3a3a3a" stroke-width="0.3"><text x="0.00" y="0.00" font-size="18.4">7.5</text></g><g transform="translate(666.39,351.10) scale(1.0000,1)" fill="#3a3a3a" stroke="#3a3a3a" stroke-width="0.3"><text x="0.00" y="0.00" font-size="18.4">7</text></g><g transform="translate(649.93,403.40) scale(1.0389,1)" fill="#3a3a3a" stroke="#3a3a3a" stroke-width="0.3"><text x="0.00" y="0.00" font-size="18.4">6.5</text></g><g transform="translate(684.82,29.60) scale(1.3309,1)" fill="#555" stroke="#555" stroke-width="0.3"><text x="0.00" y="0.00" font-size="15.0">×</text></g><g transform="translate(698.34,29.90) scale(1.0411,1)" fill="#3a3a3a" stroke="#3a3a3a" stroke-width="0.3"><text x="0.00" y="0.00" font-size="18.4">10</text></g><g transform="translate(720.75,21.40) scale(1.0697,1)" fill="#3a3a3a" stroke="#3a3a3a" stroke-width="0.3"><text x="0.00" y="0.00" font-size="14.1">4</text></g><g transform="translate(251.37,442.70) scale(1.0391,1)" fill="#3a3a3a" stroke="#3a3a3a" stroke-width="0.3"><text x="0.00" y="0.00" font-size="20.3">Distance</text></g><g transform="translate(339.17,442.70) scale(1.1271,1)" fill="#3a3a3a" stroke="#3a3a3a" stroke-width="0.3"><text x="0.00" y="0.00" font-size="20.3">[au]</text></g><g transform="translate(852.57,442.70) scale(1.0391,1)" fill="#3a3a3a" stroke="#3a3a3a" stroke-width="0.3"><text x="0.00" y="0.00" font-size="20.3">Distance</text></g><g transform="translate(940.37,442.70) scale(1.1271,1)" fill="#3a3a3a" stroke="#3a3a3a" stroke-width="0.3"><text x="0.00" y="0.00" font-size="20.3">[au]</text></g><g transform="translate(25.80,339.30) rotate(-90) scale(1.0642,1) translate(-1.67,0)" fill="#3a3a3a" stroke="#3a3a3a" stroke-width="0.3"><text x="0.00" y="0.00" font-size="20.3">Heating</text></g><g transform="translate(25.80,259.70) rotate(-90) scale(1.0602,1) translate(-1.35,0)" fill="#3a3a3a" stroke="#3a3a3a" stroke-width="0.3"><text x="0.00" y="0.00" font-size="20.3">rate</text></g><g transform="translate(25.80,217.00) rotate(-90) scale(1.1699,1) translate(-1.45,0)" fill="#3a3a3a" stroke="#3a3a3a" stroke-width="0.3"><text x="0.00" y="0.00" font-size="20.3">[erg</text></g><g transform="translate(25.80,172.70) rotate(-90) scale(1.0740,1) translate(-0.86,0)" fill="#3a3a3a" stroke="#3a3a3a" stroke-width="0.3"><text x="0.00" y="0.00" font-size="20.3">cm</text></g><g transform="translate(16.70,143.30) rotate(-90) scale(1.1222,1) translate(-0.66,0)" fill="#3a3a3a" stroke="#3a3a3a" stroke-width="0.3"><text x="0.00" y="0.00" font-size="14.8">-3</text></g><g transform="translate(25.80,121.30) rotate(-90) scale(0.9038,1) translate(-0.56,0)" fill="#3a3a3a" stroke="#3a3a3a" stroke-width="0.3"><text x="0.00" y="0.00" font-size="20.3">s</text></g><g transform="translate(16.70,110.70) rotate(-90) scale(1.0187,1) translate(-0.66,0)" fill="#3a3a3a" stroke="#3a3a3a" stroke-width="0.3"><text x="0.00" y="0.00" font-size="14.8">-1</text></g><g transform="translate(25.80,95.30) rotate(-90) scale(1.0659,1) translate(-0.16,0)" fill="#3a3a3a" stroke="#3a3a3a" stroke-width="0.3"><text x="0.00" y="0.00" font-size="20.3">]</text></g><g transform="translate(641.00,331.10) rotate(-90) scale(0.8613,1) translate(-1.67,0)" fill="#3a3a3a" stroke="#3a3a3a" stroke-width="0.3"><text x="0.00" y="0.00" font-size="20.3">PUI</text></g><g transform="translate(641.00,295.00) rotate(-90) scale(1.0208,1) translate(-0.56,0)" fill="#3a3a3a" stroke="#3a3a3a" stroke-width="0.3"><text x="0.00" y="0.00" font-size="20.3">source</text></g><g transform="translate(641.00,226.30) rotate(-90) scale(1.1048,1) translate(-1.45,0)" fill="#3a3a3a" stroke="#3a3a3a" stroke-width="0.3"><text x="0.00" y="0.00" font-size="20.3">[erg</text></g><g transform="translate(641.00,184.70) rotate(-90) scale(1.2073,1) translate(-0.85,0)" fill="#3a3a3a" stroke="#3a3a3a" stroke-width="0.3"><text x="0.00" y="0.00" font-size="20.3">gm</text></g><g transform="translate(632.70,151.70) rotate(-90) scale(1.0782,1) translate(-0.66,0)" fill="#3a3a3a" stroke="#3a3a3a" stroke-width="0.3"><text x="0.00" y="0.00" font-size="14.8">-1</text></g><g transform="translate(641.00,130.30) rotate(-90) scale(0.9716,1) translate(-0.56,0)" fill="#3a3a3a" stroke="#3a3a3a" stroke-width="0.3"><text x="0.00" y="0.00" font-size="20.3">s</text></g><g transform="translate(632.70,119.70) rotate(-90) scale(1.0782,1) translate(-0.66,0)" fill="#3a3a3a" stroke="#3a3a3a" stroke-width="0.3"><text x="0.00" y="0.00" font-size="14.8">-1</text></g><g transform="translate(641.00,104.30) rotate(-90) scale(0.9915,1) translate(-0.16,0)" fill="#3a3a3a" stroke="#3a3a3a" stroke-width="0.3"><text x="0.00" y="0.00" font-size="20.3">]</text></g></svg>
</body></html>
